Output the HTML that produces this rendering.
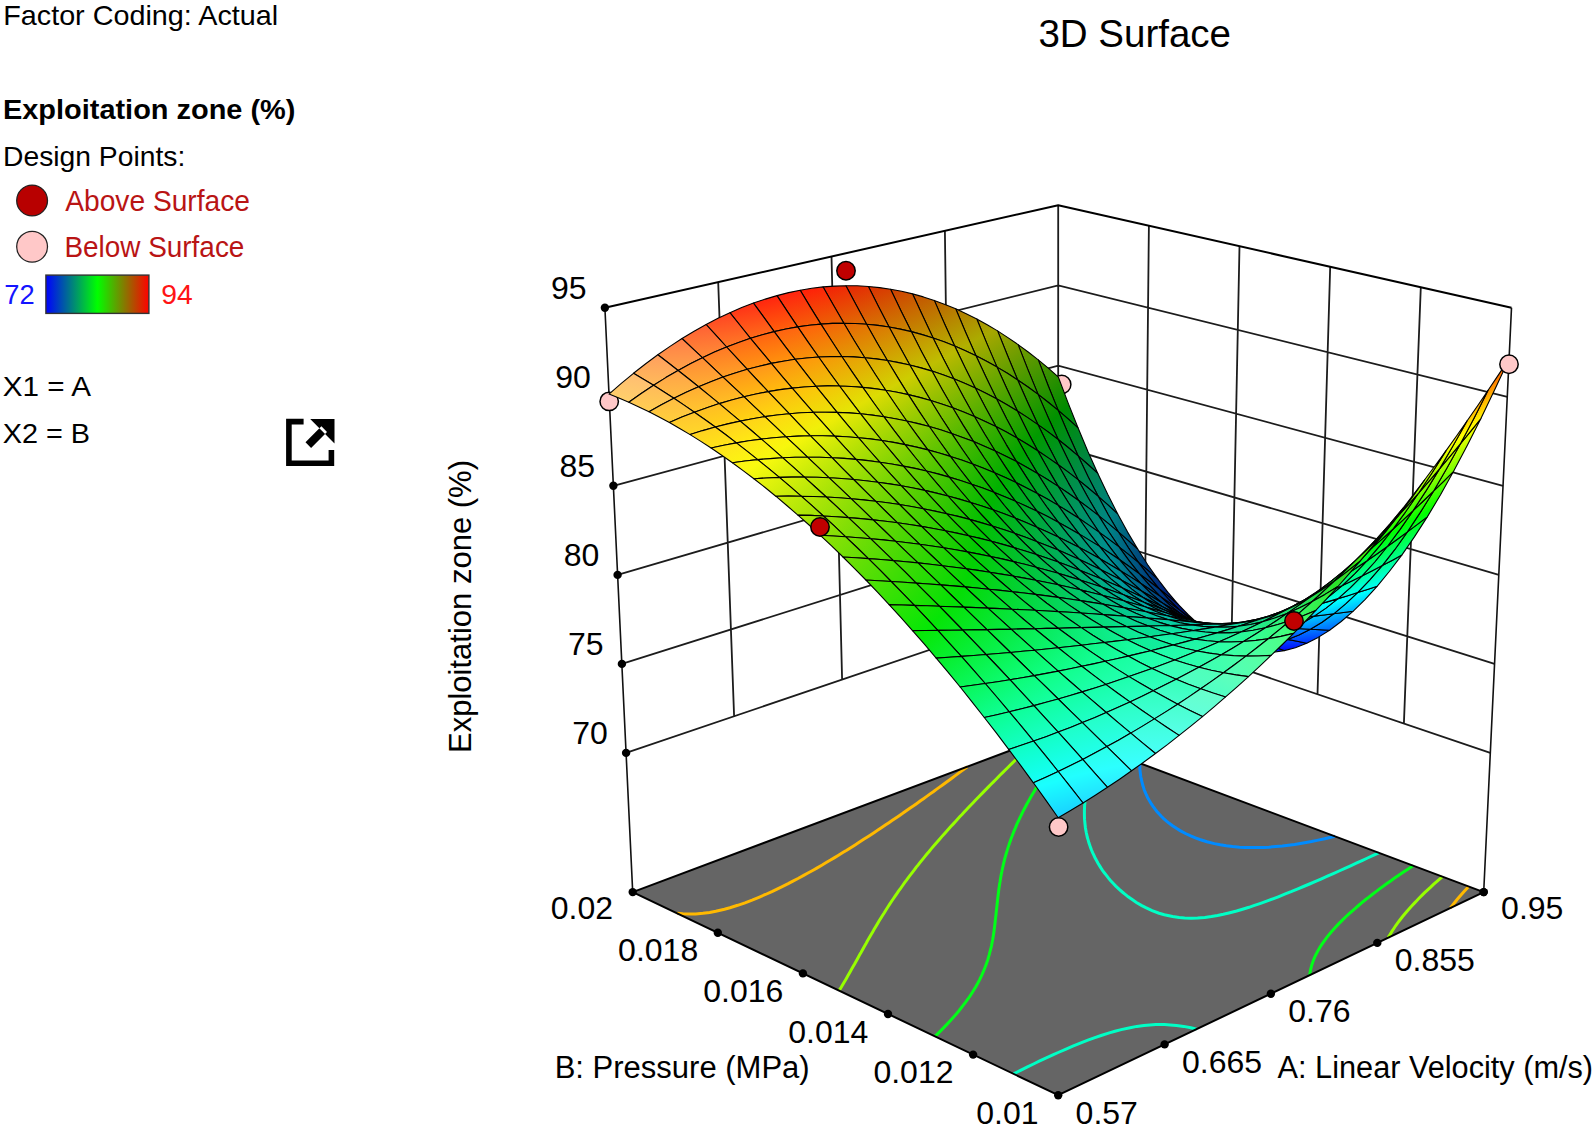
<!DOCTYPE html>
<html><head><meta charset="utf-8"><title>3D Surface</title>
<style>
html,body{margin:0;padding:0;background:#fff;}
body{width:1594px;height:1128px;position:relative;overflow:hidden;font-family:"Liberation Sans",sans-serif;}
.m path{stroke:#000;stroke-width:1.1;stroke-linejoin:round}
</style></head><body>
<svg width="1594" height="1128" viewBox="0 0 1594 1128" style="position:absolute;left:0;top:0">
<path d="M626.1,752.9L1058.2,606.2L1490.3,752.9M621.9,663.9L1058.2,526L1494.5,663.9M617.6,574.9L1058.2,445.8L1498.8,574.9M613.4,485.8L1058.2,365.6L1503,485.8M609.1,396.8L1058.2,285.4L1507.3,396.8M734.1,716.2L718.2,282.2M842.1,679.6L831.5,256.5M950.2,642.9L944.9,230.9M1144.6,635.6L1148.9,225.8M1231,664.9L1239.5,246.3M1317.5,694.2L1330.2,266.8M1403.9,723.6L1420.8,287.3M1058.2,606.2L1058.2,205.2" fill="none" stroke="#1c1c1c" stroke-width="1.8"/>
<path d="M604.9,307.8 1058.2,205.2 1511.5,307.8" fill="none" stroke="#000" stroke-width="2" stroke-linejoin="round"/>
<path d="M604.9,307.8 632.7,892.1M1511.5,307.8 1483.7,892.1" fill="none" stroke="#111" stroke-width="1.6"/>
<polygon points="632.7,892.1 1058.2,1095.2 1483.7,892.1 1058.2,732.6" fill="#656565"/>
<path d="M1334.9,836.3 1329.9,837.5 1324.8,838.7 1316.9,840.4 1311.6,841.5 1306.1,842.5 1300.4,843.5 1294.6,844.4 1288.5,845.2 1282.3,846 1275.7,846.6 1268.8,847.2 1263.7,847.4 1257.6,847.6 1250.8,847.6 1244.9,847.5 1239.5,847.2 1232.6,846.6 1226.2,845.8 1220.3,844.8 1214.4,843.6 1206.9,841.8 1199.8,839.5 1195.4,837.9 1191.2,836.2 1185.5,833.5 1180.1,830.6 1176.8,828.6 1172.5,825.7 1169.2,823.3 1166.5,821.1 1163.9,818.8 1161.5,816.5 1159.2,814.1 1157.1,811.7 1155.1,809.2 1153.2,806.7 1151.5,804.2 1149.9,801.6 1148.7,799.4 1147.6,797.5 1146.4,795 1145.2,792.2 1144.4,790.2 1143.7,788.1 1142.8,785.3 1142.3,783.3 1141.7,781 1141.1,778.4 1140.8,776.7 1140.4,773.7 1140.2,772.1 1139.9,769.3 1139.8,767.6 1139.7,764.8 1139.7,763.1 1139.7,763.1" fill="none" stroke="#008bff" stroke-width="3" stroke-linecap="butt"/>
<path d="M1013.5,1073.9 1020.5,1070.4 1027.5,1066.9 1034.5,1063.5 1039.2,1061.2 1046.3,1057.9 1053.4,1054.6 1058.2,1052.5 1065.5,1049.3 1072.8,1046.2 1080.3,1043.1 1087.9,1040.2 1094.2,1037.9 1101.1,1035.5 1109.3,1032.9 1115,1031.3 1121.2,1029.6 1130.1,1027.7 1136.8,1026.4 1143.9,1025.5 1149.9,1024.9 1155.8,1024.6 1164.5,1024.6 1170.3,1024.9 1176.5,1025.4 1183.7,1026.4 1190.9,1027.8 1196.6,1029.1M1378.8,852.8 1373.2,855.4 1367.6,858 1362,860.6 1356.3,863.2 1350.6,865.8 1344.9,868.4 1339.1,871 1333.3,873.6 1327.4,876.2 1321.5,878.8 1315.6,881.4 1309.5,884 1303.5,886.5 1297.3,889.1 1291.1,891.7 1284.7,894.2 1278.3,896.8 1273.6,898.6 1267.4,900.9 1260.6,903.3 1253.7,905.7 1249,907.3 1241.7,909.5 1236.6,911 1228.8,913 1223.3,914.3 1217.5,915.5 1211.4,916.5 1204.8,917.4 1197.6,918 1191.1,918.2 1184.6,918 1179.2,917.5 1172.6,916.5 1164.3,914.7 1159.1,913.2 1152.1,910.6 1145.8,907.7 1141.8,905.6 1136.4,902.5 1132.9,900.1 1128.2,896.8 1125.2,894.4 1122.3,892 1119,889.1 1115.8,886.1 1113.1,883.3 1110.7,880.7 1108.5,878.1 1106.4,875.4 1104.3,872.8 1102.5,870.3 1100.9,867.9 1099.5,865.6 1098,863.2 1096.4,860.3 1094.9,857.5 1093.6,854.7 1092.6,852.7 1091.6,850.3 1090.5,847.4 1089.6,844.8 1088.9,842.8 1088.1,839.9 1087.3,837.3 1086.9,835.4 1086.2,832.3 1085.8,830.1 1085.4,827.7 1085.1,824.9 1084.9,823 1084.6,819.9 1084.5,818.2 1084.4,815 1084.4,813.4 1084.4,810.3 1084.5,808.6 1084.6,805.6 1084.8,803.7 1085,801.1 1085.3,798.7 1085.6,796.6 1086,793.7 1086.3,792 1086.8,789.4 1087.4,786.9 1087.8,785.1 1088.5,782.4 1089.1,780 1089.6,778.2 1090.4,775.5 1091.2,773.1 1091.7,771.3 1092.6,768.9 1093.5,766.3 1094.3,764.3 1095,762.4 1096,759.8 1097.1,757.3 1097.9,755.4 1098.7,753.6 1099.8,751.1 1101,748.6 1101,748.6" fill="none" stroke="#00ffc5" stroke-width="3" stroke-linecap="butt"/>
<path d="M1413.1,865.7 1410.1,867.7 1405.5,870.7 1402.4,872.8 1398,875.8 1393.9,878.6 1390.6,881 1386.2,884.1 1383.2,886.2 1378.9,889.4 1376,891.6 1372.2,894.5 1368.9,897.1 1366,899.3 1361.9,902.7 1359.1,905 1355.3,908.3 1352.4,910.8 1349.8,913.1 1346.1,916.5 1343.4,919.1 1340.9,921.6 1338.4,924.1 1335,927.7 1332.6,930.4 1330.4,933 1328.2,935.6 1326.1,938.3 1324.1,941.1 1322,944.1 1320.1,947 1318.4,949.9 1316.9,952.7 1315.5,955.5 1314.1,958.6 1312.9,961.7 1311.8,964.9 1311,968.2 1310.4,970.5 1309.9,973.4 1309.7,975.2M935,1036.4 938.1,1033.4 941.1,1030.4 944,1027.4 946.9,1024.4 950,1021.1 953,1017.7 955.9,1014.4 958.6,1011.2 961.1,1008 963.5,1004.9 965.8,1001.9 967.9,999 969.9,996.1 971.8,993.2 973.8,990 975.8,986.7 977.6,983.5 979.4,980.1 980.6,977.6 981.8,975.1 983.3,971.7 984.7,968.3 985.7,965.7 986.6,963.2 987.8,959.7 988.6,956.8 989.3,954.4 990.2,950.9 990.9,948.2 991.5,945.6 992.2,942 992.6,940 993.2,936.6 993.6,934 994,931.2 994.4,928.1 994.7,925.8 995.1,922.3 995.3,920.4 995.7,916.8 996,914.6 996.3,911.4 996.6,909 996.9,906.1 997.2,903.4 997.5,900.8 997.8,897.8 998.1,895.5 998.5,892.2 998.7,890.3 999.2,886.9 999.5,884.8 1000,881.9 1000.4,879.2 1000.8,876.9 1001.4,873.6 1001.8,871.8 1002.4,868.7 1003,866.2 1003.5,863.9 1004.3,860.7 1004.8,858.6 1005.5,856.1 1006.4,853 1007,851.1 1007.8,848.4 1008.8,845.4 1009.4,843.5 1010.3,840.9 1011.3,838 1012.2,835.8 1013,833.7 1014.1,830.8 1015.3,828.1 1016.1,826.1 1017.1,823.7 1018.4,821 1019.6,818.3 1020.6,816.4 1021.7,814.1 1023,811.4 1024.4,808.8 1025.6,806.5 1026.6,804.5 1027.9,802.2 1029.4,799.6 1030.8,797 1032.3,794.5 1033.5,792.5 1034.7,790.5 1036.1,788.1 1037.7,785.6 1039.2,783.1 1040.8,780.7 1042.4,778.3 1043.7,776.3 1045.1,774.2 1046.4,772.2 1048.1,769.8 1049.7,767.4 1051.4,765.1 1053.1,762.7 1054.7,760.4 1056.4,758.1 1058.1,755.8 1059.6,753.8 1061.1,751.7 1062.7,749.7 1064.2,747.6 1065.8,745.5 1067.6,743.3 1069.3,741.1 1071.1,738.8 1071.9,737.7" fill="none" stroke="#00ff17" stroke-width="3" stroke-linecap="butt"/>
<path d="M1442.4,876.7 1439.9,878.9 1436.1,882.2 1433.5,884.4 1430.7,887.1 1427.4,890.1 1424.9,892.4 1422.4,894.9 1419,898.3 1416.7,900.7 1414.4,903.1 1411.7,906 1408.8,909.2 1406.6,911.7 1404.5,914.3 1402.4,916.8 1400.3,919.5 1397.9,922.7 1395.6,925.8 1393.7,928.7 1391.9,931.4 1390.2,934.2 1388.5,937 1388.1,937.7M839.1,990.6 841.2,987.3 842.8,984.5 844.3,982 846.1,978.9 848,975.6 849.9,972.2 851.4,969.6 852.8,967.1 854.6,964 856.4,960.7 858.2,957.5 859.5,955.1 861,952.5 862.8,949.2 864.6,946 866.2,943.2 867.5,940.8 869.1,938 871,934.8 872.8,931.7 874.3,929.1 875.7,926.7 877.4,923.9 879.2,920.8 881.1,917.7 882.8,915 884.3,912.7 885.8,910.2 887.7,907.2 889.7,904.2 891.6,901.3 893.5,898.5 895.1,896.1 896.7,893.8 898.5,891.1 900.6,888.3 902.6,885.5 904.6,882.7 906.7,879.9 908.7,877.1 910.6,874.7 912.4,872.3 914.3,869.9 916.1,867.4 918.2,864.9 920.3,862.2 922.4,859.6 924.6,856.9 926.7,854.3 928.9,851.7 931,849.1 933.2,846.6 935.4,844 937.6,841.5 939.8,839 942,836.4 944.2,833.9 946.4,831.5 948.6,829 950.8,826.5 953.1,824.1 955.3,821.7 957.5,819.3 959.7,816.8 962,814.5 964.2,812.1 966.4,809.7 968.7,807.3 970.9,805 973.1,802.7 975.4,800.3 977.6,798 979.8,795.7 982.1,793.4 984.3,791.1 986.5,788.9 988.7,786.6 991,784.3 993.2,782.1 995.6,779.7 998,777.2 1000.4,774.8 1002.9,772.4 1005.3,770 1007.6,767.7 1009.8,765.5 1012,763.4 1014.2,761.2 1016.4,759 1018.6,756.9 1020.8,754.8 1023,752.6 1025.2,750.5 1027.3,748.4 1029.7,746.2 1032.1,743.8 1034.5,741.5 1034.5,741.5" fill="none" stroke="#97ff00" stroke-width="3" stroke-linecap="butt"/>
<path d="M1468.6,886.5 1466.4,888.9 1464.3,891.2 1461.2,894.7 1459,897.3 1456.9,899.7 1454.9,902.2 1452.8,904.8 1450.4,908 1450.4,908M677.1,913.3 682.8,913.8 691,914 695.7,913.9 702.9,913.3 709.6,912.4 715.8,911.2 724.5,909.2 729.9,907.7 737.7,905.3 745,902.8 752.1,900.1 758.9,897.3 765.5,894.5 771.9,891.6 778.1,888.6 782.2,886.6 788.2,883.6 792.9,881.1 798,878.5 803.7,875.4 807.5,873.3 813.1,870.2 816.8,868.1 822.2,865 825.8,862.8 830.1,860.3 834.6,857.6 838.1,855.5 843.2,852.3 846.7,850.2 851.1,847.4 855.1,844.9 858.4,842.8 863.3,839.6 866.6,837.5 869.8,835.4 874.7,832.2 877.9,830.1 881,828 885.7,824.8 888.9,822.7 892,820.6 896.6,817.5 899.6,815.4 902.7,813.3 906.6,810.5 910.2,808 913.2,806 916.2,803.9 920.5,800.8 923.5,798.7 926.4,796.6 929.8,794.1 933.6,791.5 936.4,789.4 939.2,787.4 942.9,784.7 946.3,782.2 949.1,780.2 951.8,778.2 955.3,775.6 958.7,773.1 961.4,771.1 964.2,769 967.3,766.7 967.3,766.7" fill="none" stroke="#ffb900" stroke-width="3" stroke-linecap="butt"/>
<polygon points="632.7,892.1 1058.2,1095.2 1483.7,892.1 1058.2,732.6" fill="none" stroke="#000" stroke-width="2" stroke-linejoin="round"/>
<g fill="#000"><circle cx="626.1" cy="752.9" r="4.2"/><circle cx="621.9" cy="663.9" r="4.2"/><circle cx="617.6" cy="574.9" r="4.2"/><circle cx="613.4" cy="485.8" r="4.2"/><circle cx="609.1" cy="396.8" r="4.2"/><circle cx="604.9" cy="307.8" r="4.2"/><circle cx="632.7" cy="892.1" r="4.2"/><circle cx="717.8" cy="932.7" r="4.2"/><circle cx="802.9" cy="973.4" r="4.2"/><circle cx="888" cy="1014" r="4.2"/><circle cx="973.1" cy="1054.6" r="4.2"/><circle cx="1058.2" cy="1095.2" r="4.2"/><circle cx="1164.6" cy="1044.4" r="4.2"/><circle cx="1270.9" cy="993.7" r="4.2"/><circle cx="1377.3" cy="942.9" r="4.2"/><circle cx="1483.7" cy="892.1" r="4.2"/><circle cx="1483.7" cy="892.1" r="4.2"/></g>
<circle cx="609.2" cy="401.4" r="9.2" fill="#ffc8c8" stroke="#000" stroke-width="1.5"/>
<circle cx="1058.6" cy="827" r="9.2" fill="#ffc8c8" stroke="#000" stroke-width="1.5"/>
<circle cx="1061.7" cy="384.5" r="9.2" fill="#ffc8c8" stroke="#000" stroke-width="1.5"/>
<defs><linearGradient id="t" gradientUnits="userSpaceOnUse"/><linearGradient id="g0" href="#t" x1="1083.2" y1="423.6" x2="1033.3" y2="364.3"><stop offset="0" stop-color="#00881f"/><stop offset="0.3" stop-color="#008b00"/><stop offset="1" stop-color="#4f9300"/></linearGradient><linearGradient id="g1" href="#t" x1="1104.9" y1="465.4" x2="1051.2" y2="418.6"><stop offset="0" stop-color="#008359"/><stop offset="0.96" stop-color="#008e00"/><stop offset="1" stop-color="#058f00"/></linearGradient><linearGradient id="g2" href="#t" x1="1125.2" y1="500.6" x2="1070.5" y2="469.3"><stop offset="0" stop-color="#00767f"/><stop offset="0.11" stop-color="#008080"/><stop offset="1" stop-color="#008a39"/></linearGradient><linearGradient id="g3" href="#t" x1="1142.8" y1="529.7" x2="1092.7" y2="516"><stop offset="0" stop-color="#004a7c"/><stop offset="0.67" stop-color="#008383"/><stop offset="1" stop-color="#00866b"/></linearGradient><linearGradient id="g4" href="#t" x1="1156.7" y1="555.1" x2="1119.1" y2="556.5"><stop offset="0" stop-color="#002878"/><stop offset="1" stop-color="#007183"/></linearGradient><linearGradient id="g5" href="#t" x1="1061.4" y1="408.2" x2="1015.2" y2="347"><stop offset="0" stop-color="#058f00"/><stop offset="1" stop-color="#769b00"/></linearGradient><linearGradient id="g6" href="#t" x1="1083.6" y1="450.5" x2="1032.8" y2="399.9"><stop offset="0" stop-color="#008a39"/><stop offset="0.6" stop-color="#009100"/><stop offset="1" stop-color="#299600"/></linearGradient><linearGradient id="g7" href="#t" x1="1105" y1="486.5" x2="1051.4" y2="449.5"><stop offset="0" stop-color="#00866b"/><stop offset="1" stop-color="#009118"/></linearGradient><linearGradient id="g8" href="#t" x1="1168.8" y1="580" x2="1147.6" y2="587.8"><stop offset="0" stop-color="#000f76"/><stop offset="1" stop-color="#004c7f"/></linearGradient><linearGradient id="g9" href="#t" x1="1124.3" y1="516.1" x2="1072.1" y2="495.8"><stop offset="0" stop-color="#007183"/><stop offset="0.22" stop-color="#008585"/><stop offset="1" stop-color="#008d4d"/></linearGradient><linearGradient id="g10" href="#t" x1="1183" y1="604" x2="1174.6" y2="610.3"><stop offset="0" stop-color="#000073"/><stop offset="1" stop-color="#00307d"/></linearGradient><linearGradient id="g11" href="#t" x1="1039.2" y1="393.9" x2="996.8" y2="331.7"><stop offset="0" stop-color="#299600"/><stop offset="1" stop-color="#9ea200"/></linearGradient><linearGradient id="g12" href="#t" x1="1140.1" y1="541.1" x2="1096.7" y2="537.6"><stop offset="0" stop-color="#004c7f"/><stop offset="0.77" stop-color="#008787"/><stop offset="1" stop-color="#008979"/></linearGradient><linearGradient id="g13" href="#t" x1="1061.8" y1="436.5" x2="1014.4" y2="383.1"><stop offset="0" stop-color="#009118"/><stop offset="0.25" stop-color="#009400"/><stop offset="1" stop-color="#4e9d00"/></linearGradient><linearGradient id="g14" href="#t" x1="1083.9" y1="473.1" x2="1032.4" y2="431.5"><stop offset="0" stop-color="#008d4d"/><stop offset="0.89" stop-color="#009700"/><stop offset="1" stop-color="#0a9800"/></linearGradient><linearGradient id="g15" href="#t" x1="1152.9" y1="564.8" x2="1124.6" y2="571.6"><stop offset="0" stop-color="#00307d"/><stop offset="1" stop-color="#007287"/></linearGradient><linearGradient id="g16" href="#t" x1="1201.7" y1="623" x2="1197.4" y2="627.6"><stop offset="0" stop-color="#0000ff"/><stop offset="1" stop-color="#001c7b"/></linearGradient><linearGradient id="g17" href="#t" x1="1104.7" y1="503.6" x2="1052" y2="477"><stop offset="0" stop-color="#008979"/><stop offset="1" stop-color="#00942e"/></linearGradient><linearGradient id="g18" href="#t" x1="1166.3" y1="588.4" x2="1152.6" y2="596.6"><stop offset="0" stop-color="#001c7b"/><stop offset="1" stop-color="#005384"/></linearGradient><linearGradient id="g19" href="#t" x1="1016.7" y1="380.8" x2="978.2" y2="318.4"><stop offset="0" stop-color="#4e9d00"/><stop offset="0.76" stop-color="#a7a700"/><stop offset="1" stop-color="#aa8f00"/></linearGradient><linearGradient id="g20" href="#t" x1="1122.4" y1="528.5" x2="1074.8" y2="519.2"><stop offset="0" stop-color="#007287"/><stop offset="0.3" stop-color="#008989"/><stop offset="1" stop-color="#00905c"/></linearGradient><linearGradient id="g21" href="#t" x1="1220" y1="639.9" x2="1221.5" y2="636.3"><stop offset="0" stop-color="#0000ff"/><stop offset="1" stop-color="#00107a"/></linearGradient><linearGradient id="g22" href="#t" x1="1039.5" y1="423.5" x2="995.7" y2="368.3"><stop offset="0" stop-color="#0a9800"/><stop offset="1" stop-color="#73a500"/></linearGradient><linearGradient id="g23" href="#t" x1="1062.2" y1="460.6" x2="1013.5" y2="415.2"><stop offset="0" stop-color="#00942e"/><stop offset="0.53" stop-color="#009a00"/><stop offset="1" stop-color="#2da000"/></linearGradient><linearGradient id="g24" href="#t" x1="1136.6" y1="551.3" x2="1101.5" y2="555.4"><stop offset="0" stop-color="#005384"/><stop offset="0.81" stop-color="#008c8c"/><stop offset="1" stop-color="#008e82"/></linearGradient><linearGradient id="g25" href="#t" x1="1182.7" y1="609.6" x2="1178" y2="614.4"><stop offset="0" stop-color="#00107a"/><stop offset="1" stop-color="#003c83"/></linearGradient><linearGradient id="g26" href="#t" x1="1084" y1="491.8" x2="1032.3" y2="459.5"><stop offset="0" stop-color="#00905c"/><stop offset="1" stop-color="#009b0e"/></linearGradient><linearGradient id="g27" href="#t" x1="1241.3" y1="648.7" x2="1242.8" y2="643.1"><stop offset="0" stop-color="#0000ff"/><stop offset="1" stop-color="#001bff"/></linearGradient><linearGradient id="g28" href="#t" x1="994" y1="369" x2="959.2" y2="307.1"><stop offset="0" stop-color="#73a500"/><stop offset="0.48" stop-color="#abab00"/><stop offset="1" stop-color="#b37800"/></linearGradient><linearGradient id="g29" href="#t" x1="1149.8" y1="574" x2="1129.8" y2="583.1"><stop offset="0" stop-color="#003c83"/><stop offset="1" stop-color="#00788b"/></linearGradient><linearGradient id="g30" href="#t" x1="1103.6" y1="517.2" x2="1053.4" y2="501.5"><stop offset="0" stop-color="#008e82"/><stop offset="1" stop-color="#00983f"/></linearGradient><linearGradient id="g31" href="#t" x1="1200.4" y1="629" x2="1202.7" y2="623.9"><stop offset="0" stop-color="#0016ff"/><stop offset="1" stop-color="#002d82"/></linearGradient><linearGradient id="g32" href="#t" x1="1016.9" y1="411.5" x2="976.8" y2="355.4"><stop offset="0" stop-color="#2da000"/><stop offset="1" stop-color="#98ad00"/></linearGradient><linearGradient id="g33" href="#t" x1="1039.9" y1="448.8" x2="994.5" y2="400.8"><stop offset="0" stop-color="#009b0e"/><stop offset="0.16" stop-color="#009d00"/><stop offset="1" stop-color="#50a800"/></linearGradient><linearGradient id="g34" href="#t" x1="1119.6" y1="539.4" x2="1078.5" y2="539.1"><stop offset="0" stop-color="#00788b"/><stop offset="0.31" stop-color="#008e8e"/><stop offset="1" stop-color="#009567"/></linearGradient><linearGradient id="g35" href="#t" x1="1164.9" y1="595.8" x2="1156.6" y2="602.9"><stop offset="0" stop-color="#002d82"/><stop offset="1" stop-color="#005e8a"/></linearGradient><linearGradient id="g36" href="#t" x1="1263.3" y1="652.4" x2="1264.2" y2="643.6"><stop offset="0" stop-color="#0000ff"/><stop offset="1" stop-color="#002eff"/></linearGradient><linearGradient id="g37" href="#t" x1="1062.5" y1="480.7" x2="1012.8" y2="443.8"><stop offset="0" stop-color="#00983f"/><stop offset="0.79" stop-color="#00a000"/><stop offset="1" stop-color="#12a300"/></linearGradient><linearGradient id="g38" href="#t" x1="1222.3" y1="637.9" x2="1223.5" y2="634.2"><stop offset="0" stop-color="#0016ff"/><stop offset="1" stop-color="#004aff"/></linearGradient><linearGradient id="g39" href="#t" x1="971" y1="358.6" x2="939.8" y2="297.8"><stop offset="0" stop-color="#98ad00"/><stop offset="0.2" stop-color="#b0b000"/><stop offset="1" stop-color="#bc6300"/></linearGradient><linearGradient id="g40" href="#t" x1="1133.2" y1="561.1" x2="1106.4" y2="569.5"><stop offset="0" stop-color="#005e8a"/><stop offset="0.8" stop-color="#009191"/><stop offset="1" stop-color="#009287"/></linearGradient><linearGradient id="g41" href="#t" x1="1083.6" y1="506.9" x2="1032.6" y2="484.9"><stop offset="0" stop-color="#009567"/><stop offset="1" stop-color="#009f21"/></linearGradient><linearGradient id="g42" href="#t" x1="994" y1="400.6" x2="957.6" y2="344.4"><stop offset="0" stop-color="#50a800"/><stop offset="0.93" stop-color="#b4b400"/><stop offset="1" stop-color="#b5ae00"/></linearGradient><linearGradient id="g43" href="#t" x1="1183.3" y1="613.6" x2="1180.6" y2="617.2"><stop offset="0" stop-color="#004aff"/><stop offset="1" stop-color="#004d8a"/></linearGradient><linearGradient id="g44" href="#t" x1="1017.2" y1="438" x2="975.4" y2="388.2"><stop offset="0" stop-color="#12a300"/><stop offset="1" stop-color="#73b000"/></linearGradient><linearGradient id="g45" href="#t" x1="1101.6" y1="529" x2="1055.8" y2="523.2"><stop offset="0" stop-color="#009287"/><stop offset="1" stop-color="#009c4b"/></linearGradient><linearGradient id="g46" href="#t" x1="1147.5" y1="582.6" x2="1134.1" y2="591.7"><stop offset="0" stop-color="#004d8a"/><stop offset="1" stop-color="#008291"/></linearGradient><linearGradient id="g47" href="#t" x1="1286" y1="650.5" x2="1285.9" y2="639"><stop offset="0" stop-color="#0005ff"/><stop offset="1" stop-color="#0050ff"/></linearGradient><linearGradient id="g48" href="#t" x1="1244.1" y1="643.6" x2="1245.1" y2="637.2"><stop offset="0" stop-color="#001bff"/><stop offset="1" stop-color="#0055ff"/></linearGradient><linearGradient id="g49" href="#t" x1="1040.3" y1="470.4" x2="993.3" y2="429.7"><stop offset="0" stop-color="#009f21"/><stop offset="0.4" stop-color="#00a400"/><stop offset="1" stop-color="#33ab00"/></linearGradient><linearGradient id="g50" href="#t" x1="947.7" y1="349.5" x2="920" y2="290.6"><stop offset="0" stop-color="#b5ae00"/><stop offset="1" stop-color="#c55001"/></linearGradient><linearGradient id="g51" href="#t" x1="1202.9" y1="627.8" x2="1203.9" y2="625.1"><stop offset="0" stop-color="#0049ff"/><stop offset="1" stop-color="#00438a"/></linearGradient><linearGradient id="g52" href="#t" x1="1116.3" y1="549.6" x2="1082.7" y2="555.7"><stop offset="0" stop-color="#008291"/><stop offset="0.26" stop-color="#009393"/><stop offset="1" stop-color="#00996d"/></linearGradient><linearGradient id="g53" href="#t" x1="970.8" y1="390.9" x2="938.1" y2="335.3"><stop offset="0" stop-color="#73b000"/><stop offset="0.65" stop-color="#b9b900"/><stop offset="1" stop-color="#bf9b01"/></linearGradient><linearGradient id="g54" href="#t" x1="1062.6" y1="497.4" x2="1012.1" y2="469.7"><stop offset="0" stop-color="#009c4b"/><stop offset="1" stop-color="#00a602"/></linearGradient><linearGradient id="g55" href="#t" x1="1164.5" y1="601.8" x2="1159.7" y2="607.3"><stop offset="0" stop-color="#00438a"/><stop offset="1" stop-color="#006f91"/></linearGradient><linearGradient id="g56" href="#t" x1="994.1" y1="428.1" x2="955.9" y2="377.5"><stop offset="0" stop-color="#33ab00"/><stop offset="1" stop-color="#96b800"/></linearGradient><linearGradient id="g57" href="#t" x1="1266.6" y1="644" x2="1266.8" y2="635.1"><stop offset="0" stop-color="#002eff"/><stop offset="1" stop-color="#0070ff"/></linearGradient><linearGradient id="g58" href="#t" x1="1082.4" y1="519.7" x2="1033.7" y2="507.8"><stop offset="0" stop-color="#00996d"/><stop offset="1" stop-color="#00a32e"/></linearGradient><linearGradient id="g59" href="#t" x1="1130.2" y1="570.3" x2="1110.9" y2="580.5"><stop offset="0" stop-color="#006f91"/><stop offset="0.7" stop-color="#009696"/><stop offset="1" stop-color="#009889"/></linearGradient><linearGradient id="g60" href="#t" x1="1309.4" y1="642.8" x2="1307.8" y2="629.3"><stop offset="0" stop-color="#002fff"/><stop offset="1" stop-color="#0080ff"/></linearGradient><linearGradient id="g61" href="#t" x1="1224.7" y1="635" x2="1225.6" y2="630.7"><stop offset="0" stop-color="#0049ff"/><stop offset="1" stop-color="#007cff"/></linearGradient><linearGradient id="g62" href="#t" x1="1017.5" y1="460.8" x2="973.7" y2="417.5"><stop offset="0" stop-color="#00a602"/><stop offset="0.02" stop-color="#00a600"/><stop offset="1" stop-color="#55b300"/></linearGradient><linearGradient id="g63" href="#t" x1="924.3" y1="342" x2="899.9" y2="285.4"><stop offset="0" stop-color="#bf9b01"/><stop offset="1" stop-color="#d03f01"/></linearGradient><linearGradient id="g64" href="#t" x1="1185.1" y1="614.9" x2="1181.9" y2="620"><stop offset="0" stop-color="#0075ff"/><stop offset="1" stop-color="#006292"/></linearGradient><linearGradient id="g65" href="#t" x1="947.3" y1="382.5" x2="918.2" y2="328.2"><stop offset="0" stop-color="#96b800"/><stop offset="0.38" stop-color="#bebe01"/><stop offset="1" stop-color="#c88a01"/></linearGradient><linearGradient id="g66" href="#t" x1="1098.8" y1="539.7" x2="1059" y2="541.8"><stop offset="0" stop-color="#009889"/><stop offset="1" stop-color="#00a052"/></linearGradient><linearGradient id="g67" href="#t" x1="1040.7" y1="488.5" x2="991.9" y2="456"><stop offset="0" stop-color="#00a32e"/><stop offset="0.62" stop-color="#00a900"/><stop offset="1" stop-color="#1eae00"/></linearGradient><linearGradient id="g68" href="#t" x1="1146.1" y1="590" x2="1137.7" y2="598.1"><stop offset="0" stop-color="#006292"/><stop offset="1" stop-color="#009198"/></linearGradient><linearGradient id="g69" href="#t" x1="970.7" y1="419.3" x2="936.1" y2="368.5"><stop offset="0" stop-color="#55b300"/><stop offset="1" stop-color="#b8c101"/></linearGradient><linearGradient id="g70" href="#t" x1="1247" y1="637.6" x2="1247.5" y2="631.1"><stop offset="0" stop-color="#0055ff"/><stop offset="1" stop-color="#0090ff"/></linearGradient><linearGradient id="g71" href="#t" x1="1289.8" y1="639" x2="1288.8" y2="628.2"><stop offset="0" stop-color="#0050ff"/><stop offset="1" stop-color="#0098ff"/></linearGradient><linearGradient id="g72" href="#t" x1="1062" y1="511.5" x2="1012.1" y2="493.3"><stop offset="0" stop-color="#00a052"/><stop offset="1" stop-color="#00aa11"/></linearGradient><linearGradient id="g73" href="#t" x1="1113.1" y1="559.3" x2="1086.9" y2="569.1"><stop offset="0" stop-color="#009198"/><stop offset="0.13" stop-color="#009999"/><stop offset="1" stop-color="#009f70"/></linearGradient><linearGradient id="g74" href="#t" x1="1205" y1="626.8" x2="1205.7" y2="624.2"><stop offset="0" stop-color="#0075ff"/><stop offset="1" stop-color="#00a2ff"/></linearGradient><linearGradient id="g75" href="#t" x1="1333.4" y1="629.2" x2="1330.1" y2="614.2"><stop offset="0" stop-color="#0068ff"/><stop offset="1" stop-color="#00bfff"/></linearGradient><linearGradient id="g76" href="#t" x1="900.7" y1="336.1" x2="879.5" y2="282.4"><stop offset="0" stop-color="#c88a01"/><stop offset="1" stop-color="#db3102"/></linearGradient><linearGradient id="g77" href="#t" x1="994.3" y1="452" x2="953.9" y2="406.9"><stop offset="0" stop-color="#1eae00"/><stop offset="1" stop-color="#76bb01"/></linearGradient><linearGradient id="g78" href="#t" x1="1164.8" y1="606.3" x2="1162.1" y2="610.5"><stop offset="0" stop-color="#015e94"/><stop offset="1" stop-color="#00839a"/></linearGradient><linearGradient id="g79" href="#t" x1="923.6" y1="375.5" x2="897.9" y2="323"><stop offset="0" stop-color="#b8c101"/><stop offset="0.1" stop-color="#c3c301"/><stop offset="1" stop-color="#d37b02"/></linearGradient><linearGradient id="g80" href="#t" x1="1080.3" y1="531.3" x2="1035.7" y2="527.9"><stop offset="0" stop-color="#009f70"/><stop offset="1" stop-color="#00a737"/></linearGradient><linearGradient id="g81" href="#t" x1="1018" y1="480.3" x2="971.8" y2="444"><stop offset="0" stop-color="#00aa11"/><stop offset="0.22" stop-color="#00ac00"/><stop offset="1" stop-color="#3db500"/></linearGradient><linearGradient id="g82" href="#t" x1="1128.1" y1="578.8" x2="1114.6" y2="589"><stop offset="0" stop-color="#00839a"/><stop offset="0.51" stop-color="#009c9c"/><stop offset="1" stop-color="#009f89"/></linearGradient><linearGradient id="g83" href="#t" x1="947" y1="411.6" x2="916" y2="361.5"><stop offset="0" stop-color="#76bb01"/><stop offset="0.82" stop-color="#c8c801"/><stop offset="1" stop-color="#cbbb01"/></linearGradient><linearGradient id="g84" href="#t" x1="1270" y1="635.3" x2="1269.6" y2="627"><stop offset="0" stop-color="#0070ff"/><stop offset="1" stop-color="#00b0ff"/></linearGradient><linearGradient id="g85" href="#t" x1="1227.2" y1="631.4" x2="1227.7" y2="627.1"><stop offset="0" stop-color="#007cff"/><stop offset="1" stop-color="#00afff"/></linearGradient><linearGradient id="g86" href="#t" x1="1313.5" y1="628.5" x2="1311.2" y2="616.3"><stop offset="0" stop-color="#0080ff"/><stop offset="1" stop-color="#00ceff"/></linearGradient><linearGradient id="g87" href="#t" x1="876.8" y1="331.7" x2="858.7" y2="281.4"><stop offset="0" stop-color="#d37b02"/><stop offset="1" stop-color="#e72604"/></linearGradient><linearGradient id="g88" href="#t" x1="1040.6" y1="504" x2="991" y2="480.1"><stop offset="0" stop-color="#00a737"/><stop offset="0.81" stop-color="#00af00"/><stop offset="1" stop-color="#0eb100"/></linearGradient><linearGradient id="g89" href="#t" x1="1190.1" y1="631.8" x2="1179.9" y2="603.2"><stop offset="0" stop-color="#015e94"/><stop offset="1" stop-color="#017c9c"/></linearGradient><linearGradient id="g90" href="#t" x1="1095.7" y1="549.8" x2="1062.5" y2="557.4"><stop offset="0" stop-color="#009f89"/><stop offset="1" stop-color="#00a557"/></linearGradient><linearGradient id="g91" href="#t" x1="970.8" y1="444.1" x2="933.9" y2="398.2"><stop offset="0" stop-color="#3db500"/><stop offset="1" stop-color="#97c401"/></linearGradient><linearGradient id="g92" href="#t" x1="1357.9" y1="609.5" x2="1353" y2="593.6"><stop offset="0" stop-color="#00b1ff"/><stop offset="0.85" stop-color="#00ffff"/><stop offset="1" stop-color="#00fff1"/></linearGradient><linearGradient id="g93" href="#t" x1="1145.6" y1="596.3" x2="1140.4" y2="602.9"><stop offset="0" stop-color="#017c9c"/><stop offset="0.88" stop-color="#01a0a0"/><stop offset="1" stop-color="#00a09c"/></linearGradient><linearGradient id="g94" href="#t" x1="899.7" y1="369.8" x2="877.3" y2="319.7"><stop offset="0" stop-color="#cbbb01"/><stop offset="1" stop-color="#de6f03"/></linearGradient><linearGradient id="g95" href="#t" x1="1060.7" y1="524" x2="1012.9" y2="514.5"><stop offset="0" stop-color="#00a557"/><stop offset="1" stop-color="#00ae1b"/></linearGradient><linearGradient id="g96" href="#t" x1="994.7" y1="472.7" x2="951.7" y2="433.6"><stop offset="0" stop-color="#0eb100"/><stop offset="1" stop-color="#5dbd01"/></linearGradient><linearGradient id="g97" href="#t" x1="1110.4" y1="568.5" x2="1090.6" y2="579.8"><stop offset="0" stop-color="#00a09c"/><stop offset="1" stop-color="#00a571"/></linearGradient><linearGradient id="g98" href="#t" x1="923.1" y1="405.1" x2="895.6" y2="356.2"><stop offset="0" stop-color="#97c401"/><stop offset="0.55" stop-color="#cdcd01"/><stop offset="1" stop-color="#d5ae02"/></linearGradient><linearGradient id="g99" href="#t" x1="1250" y1="631.5" x2="1249.9" y2="625.6"><stop offset="0" stop-color="#0090ff"/><stop offset="1" stop-color="#00c8ff"/></linearGradient><linearGradient id="g100" href="#t" x1="1207.2" y1="625.5" x2="1207.6" y2="622.8"><stop offset="0" stop-color="#00a2ff"/><stop offset="1" stop-color="#00ceff"/></linearGradient><linearGradient id="g101" href="#t" x1="1293.5" y1="627.8" x2="1292" y2="618.2"><stop offset="0" stop-color="#0098ff"/><stop offset="1" stop-color="#00ddff"/></linearGradient><linearGradient id="g102" href="#t" x1="852.8" y1="329" x2="837.5" y2="282.5"><stop offset="0" stop-color="#de6f03"/><stop offset="1" stop-color="#f32006"/></linearGradient><linearGradient id="g103" href="#t" x1="1018.2" y1="497.1" x2="970.2" y2="468.2"><stop offset="0" stop-color="#00ae1b"/><stop offset="0.39" stop-color="#00b200"/><stop offset="1" stop-color="#2cb801"/></linearGradient><linearGradient id="g104" href="#t" x1="1165.7" y1="609.6" x2="1164" y2="612.9"><stop offset="0" stop-color="#017da0"/><stop offset="1" stop-color="#019ca3"/></linearGradient><linearGradient id="g105" href="#t" x1="1077.7" y1="541.9" x2="1038.1" y2="545.3"><stop offset="0" stop-color="#00a571"/><stop offset="1" stop-color="#00ac3c"/></linearGradient><linearGradient id="g106" href="#t" x1="946.9" y1="437.1" x2="913.6" y2="391.1"><stop offset="0" stop-color="#5dbd01"/><stop offset="1" stop-color="#b7cd01"/></linearGradient><linearGradient id="g107" href="#t" x1="1337.9" y1="612.3" x2="1334" y2="599.3"><stop offset="0" stop-color="#00bfff"/><stop offset="0.77" stop-color="#00ffff"/><stop offset="1" stop-color="#00ffec"/></linearGradient><linearGradient id="g108" href="#t" x1="875.6" y1="365.7" x2="856.3" y2="318.5"><stop offset="0" stop-color="#d5ae02"/><stop offset="1" stop-color="#e96604"/></linearGradient><linearGradient id="g109" href="#t" x1="1126.8" y1="586.4" x2="1117.5" y2="595.8"><stop offset="0" stop-color="#019ca3"/><stop offset="0.19" stop-color="#01a4a4"/><stop offset="1" stop-color="#01a786"/></linearGradient><linearGradient id="g110" href="#t" x1="1383.1" y1="583.6" x2="1376" y2="566.2"><stop offset="0" stop-color="#00fff5"/><stop offset="1" stop-color="#00ff8d"/></linearGradient><linearGradient id="g111" href="#t" x1="1039.8" y1="517.7" x2="990.7" y2="501.8"><stop offset="0" stop-color="#00ac3c"/><stop offset="0.97" stop-color="#01b401"/><stop offset="1" stop-color="#02b401"/></linearGradient><linearGradient id="g112" href="#t" x1="971" y1="465.8" x2="931.3" y2="424.9"><stop offset="0" stop-color="#2cb801"/><stop offset="1" stop-color="#7cc601"/></linearGradient><linearGradient id="g113" href="#t" x1="898.9" y1="399.8" x2="874.8" y2="352.8"><stop offset="0" stop-color="#b7cd01"/><stop offset="0.28" stop-color="#d2d202"/><stop offset="1" stop-color="#dfa303"/></linearGradient><linearGradient id="g114" href="#t" x1="1092.9" y1="559.5" x2="1065.8" y2="570.3"><stop offset="0" stop-color="#01a786"/><stop offset="1" stop-color="#01ab58"/></linearGradient><linearGradient id="g115" href="#t" x1="1229.8" y1="627.8" x2="1229.9" y2="624"><stop offset="0" stop-color="#00afff"/><stop offset="1" stop-color="#00e0ff"/></linearGradient><linearGradient id="g116" href="#t" x1="828.5" y1="328.1" x2="816.1" y2="285.8"><stop offset="0" stop-color="#e96604"/><stop offset="1" stop-color="#ff1f09"/></linearGradient><linearGradient id="g117" href="#t" x1="1273.3" y1="626.9" x2="1272.4" y2="619.9"><stop offset="0" stop-color="#00b0ff"/><stop offset="1" stop-color="#00edff"/></linearGradient><linearGradient id="g118" href="#t" x1="1188.5" y1="615.3" x2="1185.7" y2="622.3"><stop offset="0" stop-color="#017da0"/><stop offset="1" stop-color="#03a0ad"/></linearGradient><linearGradient id="g119" href="#t" x1="1317.6" y1="615" x2="1314.8" y2="604.7"><stop offset="0" stop-color="#00ceff"/><stop offset="0.66" stop-color="#00ffff"/><stop offset="1" stop-color="#00ffe6"/></linearGradient><linearGradient id="g120" href="#t" x1="1145.9" y1="601.4" x2="1142.3" y2="607.2"><stop offset="0" stop-color="#029aa7"/><stop offset="0.43" stop-color="#01a9a9"/><stop offset="1" stop-color="#01aa98"/></linearGradient><linearGradient id="g121" href="#t" x1="995" y1="490.7" x2="949.5" y2="457.9"><stop offset="0" stop-color="#02b401"/><stop offset="1" stop-color="#4ac001"/></linearGradient><linearGradient id="g122" href="#t" x1="922.7" y1="431.2" x2="892.9" y2="385.8"><stop offset="0" stop-color="#7cc601"/><stop offset="1" stop-color="#d6d602"/><stop offset="1" stop-color="#d6d602"/></linearGradient><linearGradient id="g123" href="#t" x1="1058.7" y1="535.4" x2="1014.1" y2="533.1"><stop offset="0" stop-color="#01ab58"/><stop offset="1" stop-color="#01b222"/></linearGradient><linearGradient id="g124" href="#t" x1="851.2" y1="363" x2="835" y2="319.2"><stop offset="0" stop-color="#dfa303"/><stop offset="1" stop-color="#f56107"/></linearGradient><linearGradient id="g125" href="#t" x1="1108.7" y1="577.1" x2="1093.4" y2="588.8"><stop offset="0" stop-color="#01aa98"/><stop offset="1" stop-color="#01ad70"/></linearGradient><linearGradient id="g126" href="#t" x1="1362.7" y1="590.3" x2="1357.1" y2="576.2"><stop offset="0" stop-color="#00fff1"/><stop offset="1" stop-color="#00ff94"/></linearGradient><linearGradient id="g127" href="#t" x1="946.9" y1="459.7" x2="910.7" y2="417.8"><stop offset="0" stop-color="#4ac001"/><stop offset="1" stop-color="#9bce02"/></linearGradient><linearGradient id="g128" href="#t" x1="1017.8" y1="511.9" x2="968.9" y2="490.3"><stop offset="0" stop-color="#01b222"/><stop offset="0.53" stop-color="#01b701"/><stop offset="1" stop-color="#1fbb01"/></linearGradient><linearGradient id="g129" href="#t" x1="874.5" y1="395.8" x2="853.6" y2="351.3"><stop offset="0" stop-color="#d6d602"/><stop offset="1" stop-color="#eb9b05"/></linearGradient><linearGradient id="g130" href="#t" x1="804.1" y1="328.9" x2="794.3" y2="291.4"><stop offset="0" stop-color="#f56107"/><stop offset="1" stop-color="#ff240f"/></linearGradient><linearGradient id="g131" href="#t" x1="1209.3" y1="624.8" x2="1209.6" y2="621.5"><stop offset="0" stop-color="#00ceff"/><stop offset="1" stop-color="#00f7ff"/></linearGradient><linearGradient id="g132" href="#t" x1="1252.9" y1="626" x2="1252.5" y2="621.2"><stop offset="0" stop-color="#00c8ff"/><stop offset="1" stop-color="#00fdff"/></linearGradient><linearGradient id="g133" href="#t" x1="1075.2" y1="552.1" x2="1040.5" y2="560.1"><stop offset="0" stop-color="#01ad70"/><stop offset="1" stop-color="#01b13f"/></linearGradient><linearGradient id="g134" href="#t" x1="1167" y1="612.3" x2="1165.7" y2="615.6"><stop offset="0" stop-color="#029aa7"/><stop offset="0.59" stop-color="#02acac"/><stop offset="1" stop-color="#02afa5"/></linearGradient><linearGradient id="g135" href="#t" x1="1297.2" y1="617.4" x2="1295.3" y2="609.8"><stop offset="0" stop-color="#00ddff"/><stop offset="0.52" stop-color="#00ffff"/><stop offset="1" stop-color="#00ffe0"/></linearGradient><linearGradient id="g136" href="#t" x1="1409.6" y1="552.5" x2="1399.1" y2="531.6"><stop offset="0" stop-color="#00ff94"/><stop offset="1" stop-color="#00ff15"/></linearGradient><linearGradient id="g137" href="#t" x1="826.7" y1="361.9" x2="813.4" y2="322"><stop offset="0" stop-color="#eb9b05"/><stop offset="1" stop-color="#ff600b"/></linearGradient><linearGradient id="g138" href="#t" x1="898.2" y1="426.4" x2="871.9" y2="382.3"><stop offset="0" stop-color="#9bce02"/><stop offset="0.73" stop-color="#dcdc03"/><stop offset="1" stop-color="#e1cc04"/></linearGradient><linearGradient id="g139" href="#t" x1="1126.6" y1="593.1" x2="1119.4" y2="602.1"><stop offset="0" stop-color="#02afa5"/><stop offset="1" stop-color="#01b083"/></linearGradient><linearGradient id="g140" href="#t" x1="971.2" y1="484.9" x2="928.7" y2="449.2"><stop offset="0" stop-color="#1fbb01"/><stop offset="1" stop-color="#67c801"/></linearGradient><linearGradient id="g141" href="#t" x1="1038.5" y1="530" x2="990.8" y2="521.3"><stop offset="0" stop-color="#01b13f"/><stop offset="1" stop-color="#01b807"/></linearGradient><linearGradient id="g142" href="#t" x1="1342.2" y1="596.8" x2="1338" y2="585.7"><stop offset="0" stop-color="#00ffec"/><stop offset="1" stop-color="#00ff9a"/></linearGradient><linearGradient id="g143" href="#t" x1="1091" y1="568.8" x2="1068.1" y2="581.3"><stop offset="0" stop-color="#01b083"/><stop offset="1" stop-color="#01b258"/></linearGradient><linearGradient id="g144" href="#t" x1="779.5" y1="331.4" x2="771.5" y2="296.5"><stop offset="0" stop-color="#ff600b"/><stop offset="1" stop-color="#ff240f"/></linearGradient><linearGradient id="g145" href="#t" x1="849.8" y1="393.2" x2="832.2" y2="351.7"><stop offset="0" stop-color="#e1cc04"/><stop offset="1" stop-color="#f69608"/></linearGradient><linearGradient id="g146" href="#t" x1="922.5" y1="454.4" x2="889.8" y2="412.4"><stop offset="0" stop-color="#67c801"/><stop offset="1" stop-color="#b8d703"/></linearGradient><linearGradient id="g147" href="#t" x1="994.8" y1="506.7" x2="947.5" y2="480.2"><stop offset="0" stop-color="#01b807"/><stop offset="0.09" stop-color="#01b901"/><stop offset="1" stop-color="#3cc201"/></linearGradient><linearGradient id="g148" href="#t" x1="1232.3" y1="625.2" x2="1232.3" y2="621.9"><stop offset="0" stop-color="#00e0ff"/><stop offset="0.7" stop-color="#00ffff"/><stop offset="1" stop-color="#00fff1"/></linearGradient><linearGradient id="g149" href="#t" x1="1189.2" y1="618.5" x2="1188.5" y2="621.8"><stop offset="0" stop-color="#03a0ad"/><stop offset="0.56" stop-color="#04b5b5"/><stop offset="1" stop-color="#05bcb1"/></linearGradient><linearGradient id="g150" href="#t" x1="1388.8" y1="563.2" x2="1380.3" y2="546.2"><stop offset="0" stop-color="#00ff9a"/><stop offset="1" stop-color="#00ff29"/></linearGradient><linearGradient id="g151" href="#t" x1="1276.5" y1="619.7" x2="1275.5" y2="614.3"><stop offset="0" stop-color="#00edff"/><stop offset="0.32" stop-color="#00ffff"/><stop offset="1" stop-color="#00ffd9"/></linearGradient><linearGradient id="g152" href="#t" x1="1056.7" y1="546.4" x2="1015.5" y2="549.4"><stop offset="0" stop-color="#01b258"/><stop offset="1" stop-color="#01b725"/></linearGradient><linearGradient id="g153" href="#t" x1="1146.8" y1="606.2" x2="1143.7" y2="612.1"><stop offset="0" stop-color="#03b5ae"/><stop offset="1" stop-color="#02b593"/></linearGradient><linearGradient id="g154" href="#t" x1="801.9" y1="362.4" x2="791.4" y2="326.9"><stop offset="0" stop-color="#f69608"/><stop offset="1" stop-color="#ff6211"/></linearGradient><linearGradient id="g155" href="#t" x1="1321.5" y1="603" x2="1318.6" y2="594.7"><stop offset="0" stop-color="#00ffe6"/><stop offset="1" stop-color="#00ff9f"/></linearGradient><linearGradient id="g156" href="#t" x1="873.5" y1="422.7" x2="850.5" y2="380.4"><stop offset="0" stop-color="#b8d703"/><stop offset="0.47" stop-color="#e1e104"/><stop offset="1" stop-color="#ebc506"/></linearGradient><linearGradient id="g157" href="#t" x1="947" y1="479.6" x2="907.7" y2="442.1"><stop offset="0" stop-color="#3cc201"/><stop offset="1" stop-color="#84d002"/></linearGradient><linearGradient id="g158" href="#t" x1="1108.1" y1="585.1" x2="1095" y2="597.2"><stop offset="0" stop-color="#02b593"/><stop offset="1" stop-color="#01b66e"/></linearGradient><linearGradient id="g159" href="#t" x1="1016.9" y1="525.5" x2="968.1" y2="510.4"><stop offset="0" stop-color="#01b725"/><stop offset="0.64" stop-color="#01bc01"/><stop offset="1" stop-color="#17bf01"/></linearGradient><linearGradient id="g160" href="#t" x1="755" y1="337" x2="748.7" y2="303.6"><stop offset="0" stop-color="#ff6a19"/><stop offset="1" stop-color="#ff3017"/></linearGradient><linearGradient id="g161" href="#t" x1="1073.5" y1="562.3" x2="1042.1" y2="573"><stop offset="0" stop-color="#01b66e"/><stop offset="1" stop-color="#01b840"/></linearGradient><linearGradient id="g162" href="#t" x1="1437.4" y1="515" x2="1422.7" y2="489.9"><stop offset="0" stop-color="#00ff29"/><stop offset="0.26" stop-color="#00ff00"/><stop offset="1" stop-color="#72ff00"/></linearGradient><linearGradient id="g163" href="#t" x1="824.9" y1="392" x2="810.3" y2="353.9"><stop offset="0" stop-color="#ebc506"/><stop offset="1" stop-color="#ff940c"/></linearGradient><linearGradient id="g164" href="#t" x1="1367.8" y1="573.7" x2="1361.2" y2="560.2"><stop offset="0" stop-color="#00ff9f"/><stop offset="1" stop-color="#00ff3b"/></linearGradient><linearGradient id="g165" href="#t" x1="897.8" y1="450.1" x2="868.6" y2="408.6"><stop offset="0" stop-color="#84d002"/><stop offset="1" stop-color="#d5e104"/></linearGradient><linearGradient id="g166" href="#t" x1="1211.7" y1="619.8" x2="1211.5" y2="626"><stop offset="0" stop-color="#00f7ff"/><stop offset="0.21" stop-color="#02f2f2"/><stop offset="1" stop-color="#09c3ad"/></linearGradient><linearGradient id="g167" href="#t" x1="1255.8" y1="621.9" x2="1255.3" y2="618.2"><stop offset="0" stop-color="#00fdff"/><stop offset="0.05" stop-color="#00ffff"/><stop offset="1" stop-color="#00ffd2"/></linearGradient><linearGradient id="g168" href="#t" x1="971.1" y1="501.9" x2="926.2" y2="471.6"><stop offset="0" stop-color="#17bf01"/><stop offset="1" stop-color="#58c902"/></linearGradient><linearGradient id="g169" href="#t" x1="1168.5" y1="615.2" x2="1167.2" y2="619.3"><stop offset="0" stop-color="#03b5ae"/><stop offset="1" stop-color="#03bc9f"/></linearGradient><linearGradient id="g170" href="#t" x1="777" y1="364.4" x2="768.8" y2="332.6"><stop offset="0" stop-color="#ff940c"/><stop offset="1" stop-color="#ff6211"/></linearGradient><linearGradient id="g171" href="#t" x1="1037" y1="542.1" x2="991.1" y2="538.7"><stop offset="0" stop-color="#01b840"/><stop offset="1" stop-color="#01bd0c"/></linearGradient><linearGradient id="g172" href="#t" x1="1127.2" y1="599.5" x2="1120.4" y2="609.1"><stop offset="0" stop-color="#03bc9f"/><stop offset="1" stop-color="#02bb80"/></linearGradient><linearGradient id="g173" href="#t" x1="1300.7" y1="608.8" x2="1298.8" y2="603.1"><stop offset="0" stop-color="#00ffe0"/><stop offset="1" stop-color="#00ffa3"/></linearGradient><linearGradient id="g174" href="#t" x1="848.5" y1="420.2" x2="828.9" y2="380.4"><stop offset="0" stop-color="#d5e104"/><stop offset="0.19" stop-color="#e5e505"/><stop offset="1" stop-color="#f6c008"/></linearGradient><linearGradient id="g175" href="#t" x1="730.6" y1="345.9" x2="725.6" y2="312.9"><stop offset="0" stop-color="#ff7825"/><stop offset="1" stop-color="#ff4423"/></linearGradient><linearGradient id="g176" href="#t" x1="922.4" y1="475.1" x2="886.4" y2="436.6"><stop offset="0" stop-color="#58c902"/><stop offset="1" stop-color="#a1d803"/></linearGradient><linearGradient id="g177" href="#t" x1="1090.5" y1="578.1" x2="1069.1" y2="591.7"><stop offset="0" stop-color="#02bb80"/><stop offset="1" stop-color="#02bb57"/></linearGradient><linearGradient id="g178" href="#t" x1="1416.1" y1="530.1" x2="1403.8" y2="509.5"><stop offset="0" stop-color="#00ff3b"/><stop offset="0.42" stop-color="#00ff00"/><stop offset="1" stop-color="#51ff00"/></linearGradient><linearGradient id="g179" href="#t" x1="994.2" y1="521.3" x2="945.9" y2="500.7"><stop offset="0" stop-color="#01bd0c"/><stop offset="0.18" stop-color="#01be01"/><stop offset="1" stop-color="#32c502"/></linearGradient><linearGradient id="g180" href="#t" x1="1346.7" y1="583.8" x2="1341.8" y2="573.6"><stop offset="0" stop-color="#00ffa3"/><stop offset="1" stop-color="#00ff4b"/></linearGradient><linearGradient id="g181" href="#t" x1="799.8" y1="392.2" x2="788.2" y2="358.2"><stop offset="0" stop-color="#f6c008"/><stop offset="1" stop-color="#ff9312"/></linearGradient><linearGradient id="g182" href="#t" x1="1055.4" y1="557.8" x2="1016.1" y2="563.8"><stop offset="0" stop-color="#02bb57"/><stop offset="1" stop-color="#01bd28"/></linearGradient><linearGradient id="g183" href="#t" x1="872.8" y1="446.8" x2="847" y2="406.5"><stop offset="0" stop-color="#a1d803"/><stop offset="0.91" stop-color="#e9e906"/><stop offset="1" stop-color="#eae406"/></linearGradient><linearGradient id="g184" href="#t" x1="1190.9" y1="620.5" x2="1190.4" y2="624.6"><stop offset="0" stop-color="#05bcb1"/><stop offset="1" stop-color="#0acda9"/></linearGradient><linearGradient id="g185" href="#t" x1="1232.9" y1="615.4" x2="1236.3" y2="628.8"><stop offset="0" stop-color="#00fff1"/><stop offset="1" stop-color="#0ecaa3"/></linearGradient><linearGradient id="g186" href="#t" x1="751.8" y1="368.1" x2="745.6" y2="338.9"><stop offset="0" stop-color="#ff9312"/><stop offset="1" stop-color="#ff6a19"/></linearGradient><linearGradient id="g187" href="#t" x1="1147.9" y1="611.5" x2="1144.9" y2="618.2"><stop offset="0" stop-color="#06c4a7"/><stop offset="1" stop-color="#04c28f"/></linearGradient><linearGradient id="g188" href="#t" x1="946.9" y1="497.5" x2="904.7" y2="464.6"><stop offset="0" stop-color="#32c502"/><stop offset="1" stop-color="#74d102"/></linearGradient><linearGradient id="g189" href="#t" x1="1279.7" y1="614.6" x2="1278.6" y2="610.5"><stop offset="0" stop-color="#00ffd9"/><stop offset="1" stop-color="#00ffa6"/></linearGradient><linearGradient id="g190" href="#t" x1="705.8" y1="356.9" x2="702.5" y2="324.4"><stop offset="0" stop-color="#ff8b35"/><stop offset="1" stop-color="#ff5f34"/></linearGradient><linearGradient id="g191" href="#t" x1="1394.6" y1="544.8" x2="1384.8" y2="528.4"><stop offset="0" stop-color="#00ff4b"/><stop offset="0.6" stop-color="#00ff00"/><stop offset="1" stop-color="#33ff00"/></linearGradient><linearGradient id="g192" href="#t" x1="1015.7" y1="538.7" x2="967.5" y2="528.5"><stop offset="0" stop-color="#01bd28"/><stop offset="0.72" stop-color="#02c102"/><stop offset="1" stop-color="#11c202"/></linearGradient><linearGradient id="g193" href="#t" x1="1108.8" y1="593.1" x2="1095.3" y2="606.3"><stop offset="0" stop-color="#04c28f"/><stop offset="1" stop-color="#02c06b"/></linearGradient><linearGradient id="g194" href="#t" x1="823.3" y1="419" x2="806.8" y2="382.1"><stop offset="0" stop-color="#eae406"/><stop offset="1" stop-color="#ffbe0c"/></linearGradient><linearGradient id="g195" href="#t" x1="1466" y1="470" x2="1447.2" y2="441.8"><stop offset="0" stop-color="#51ff00"/><stop offset="0.94" stop-color="#ffff00"/><stop offset="1" stop-color="#fff500"/></linearGradient><linearGradient id="g196" href="#t" x1="1325.5" y1="593.5" x2="1322.2" y2="586.3"><stop offset="0" stop-color="#00ffa6"/><stop offset="1" stop-color="#00ff5a"/></linearGradient><linearGradient id="g197" href="#t" x1="897.5" y1="471.3" x2="864.9" y2="432.6"><stop offset="0" stop-color="#74d102"/><stop offset="1" stop-color="#bce004"/></linearGradient><linearGradient id="g198" href="#t" x1="1073.2" y1="573.1" x2="1042.2" y2="585"><stop offset="0" stop-color="#02c06b"/><stop offset="1" stop-color="#02bf40"/></linearGradient><linearGradient id="g199" href="#t" x1="774.4" y1="393.9" x2="765.7" y2="364.4"><stop offset="0" stop-color="#ffbe0c"/><stop offset="1" stop-color="#ff961a"/></linearGradient><linearGradient id="g200" href="#t" x1="970.6" y1="517.6" x2="923.9" y2="492.3"><stop offset="0" stop-color="#11c202"/><stop offset="1" stop-color="#4dcb02"/></linearGradient><linearGradient id="g201" href="#t" x1="727" y1="375.9" x2="722.3" y2="347.2"><stop offset="0" stop-color="#ff9f26"/><stop offset="1" stop-color="#ff7825"/></linearGradient><linearGradient id="g202" href="#t" x1="1213.6" y1="622.5" x2="1213.9" y2="627.1"><stop offset="0" stop-color="#09c3ad"/><stop offset="1" stop-color="#0fd5a5"/></linearGradient><linearGradient id="g203" href="#t" x1="847.5" y1="444.5" x2="825" y2="406"><stop offset="0" stop-color="#bce004"/><stop offset="0.65" stop-color="#eded07"/><stop offset="1" stop-color="#f4df09"/></linearGradient><linearGradient id="g204" href="#t" x1="1170.1" y1="619" x2="1168.7" y2="624.7"><stop offset="0" stop-color="#06c4a7"/><stop offset="1" stop-color="#0ad5a2"/></linearGradient><linearGradient id="g205" href="#t" x1="1035.8" y1="554.8" x2="990.9" y2="554.1"><stop offset="0" stop-color="#02bf40"/><stop offset="1" stop-color="#02c20f"/></linearGradient><linearGradient id="g206" href="#t" x1="680.7" y1="369.8" x2="679.4" y2="338.1"><stop offset="0" stop-color="#ffa248"/><stop offset="1" stop-color="#ff7e48"/></linearGradient><linearGradient id="g207" href="#t" x1="1373" y1="559.2" x2="1365.5" y2="546.7"><stop offset="0" stop-color="#00ff5a"/><stop offset="0.81" stop-color="#00ff00"/><stop offset="1" stop-color="#16ff00"/></linearGradient><linearGradient id="g208" href="#t" x1="1255.2" y1="612.7" x2="1261.1" y2="623.7"><stop offset="0" stop-color="#00ffd2"/><stop offset="1" stop-color="#00ffa8"/></linearGradient><linearGradient id="g209" href="#t" x1="1128.4" y1="606.5" x2="1120.8" y2="617.8"><stop offset="0" stop-color="#06ca9b"/><stop offset="1" stop-color="#04c77d"/></linearGradient><linearGradient id="g210" href="#t" x1="1444.1" y1="489.7" x2="1428.3" y2="467"><stop offset="0" stop-color="#33ff00"/><stop offset="1" stop-color="#daff00"/></linearGradient><linearGradient id="g211" href="#t" x1="922.2" y1="493.7" x2="883" y2="459"><stop offset="0" stop-color="#4dcb02"/><stop offset="1" stop-color="#8fd803"/></linearGradient><linearGradient id="g212" href="#t" x1="797.8" y1="419" x2="784.5" y2="385.7"><stop offset="0" stop-color="#f4df09"/><stop offset="1" stop-color="#ffb912"/></linearGradient><linearGradient id="g213" href="#t" x1="1304.3" y1="603.2" x2="1302.1" y2="597.7"><stop offset="0" stop-color="#00ffa8"/><stop offset="1" stop-color="#00ff68"/></linearGradient><linearGradient id="g214" href="#t" x1="1091.6" y1="588" x2="1068.3" y2="602.6"><stop offset="0" stop-color="#04c77d"/><stop offset="1" stop-color="#03c456"/></linearGradient><linearGradient id="g215" href="#t" x1="993.2" y1="535.7" x2="944.6" y2="519.3"><stop offset="0" stop-color="#02c20f"/><stop offset="0.25" stop-color="#02c402"/><stop offset="1" stop-color="#2bc802"/></linearGradient><linearGradient id="g216" href="#t" x1="748.8" y1="396.9" x2="742.3" y2="370.1"><stop offset="0" stop-color="#ffb912"/><stop offset="1" stop-color="#ff961a"/></linearGradient><linearGradient id="g217" href="#t" x1="872.3" y1="468.4" x2="842.9" y2="430.2"><stop offset="0" stop-color="#8fd803"/><stop offset="1" stop-color="#d6e906"/></linearGradient><linearGradient id="g218" href="#t" x1="1055.2" y1="570.3" x2="1015.4" y2="576.9"><stop offset="0" stop-color="#03c456"/><stop offset="1" stop-color="#02c429"/></linearGradient><linearGradient id="g219" href="#t" x1="701.9" y1="385.8" x2="698.9" y2="357.5"><stop offset="0" stop-color="#ffac33"/><stop offset="1" stop-color="#ff8b35"/></linearGradient><linearGradient id="g220" href="#t" x1="655.2" y1="384.7" x2="656.4" y2="354.1"><stop offset="0" stop-color="#ffba5a"/><stop offset="1" stop-color="#ff9e5e"/></linearGradient><linearGradient id="g221" href="#t" x1="946.4" y1="514.1" x2="901.9" y2="485.4"><stop offset="0" stop-color="#2bc802"/><stop offset="1" stop-color="#67d203"/></linearGradient><linearGradient id="g222" href="#t" x1="1351.3" y1="573.1" x2="1346" y2="564.1"><stop offset="0" stop-color="#00ff68"/><stop offset="1" stop-color="#00ff06"/></linearGradient><linearGradient id="g223" href="#t" x1="1422.1" y1="509" x2="1409.3" y2="491.4"><stop offset="0" stop-color="#16ff00"/><stop offset="1" stop-color="#aeff00"/></linearGradient><linearGradient id="g224" href="#t" x1="1192.6" y1="623.6" x2="1192.3" y2="630"><stop offset="0" stop-color="#0acda9"/><stop offset="1" stop-color="#10dfa5"/></linearGradient><linearGradient id="g225" href="#t" x1="822" y1="443.3" x2="802.8" y2="407.1"><stop offset="0" stop-color="#d6e906"/><stop offset="0.38" stop-color="#f0f009"/><stop offset="1" stop-color="#fddc0c"/></linearGradient><linearGradient id="g226" href="#t" x1="1236.5" y1="621.4" x2="1237.8" y2="626.4"><stop offset="0" stop-color="#0ecaa3"/><stop offset="1" stop-color="#16dd9a"/></linearGradient><linearGradient id="g227" href="#t" x1="1149.4" y1="617.7" x2="1145.7" y2="626.3"><stop offset="0" stop-color="#06ca9b"/><stop offset="1" stop-color="#06d08d"/></linearGradient><linearGradient id="g228" href="#t" x1="1014.7" y1="552.7" x2="966.7" y2="544.7"><stop offset="0" stop-color="#02c429"/><stop offset="0.78" stop-color="#02c602"/><stop offset="1" stop-color="#0dc702"/></linearGradient><linearGradient id="g229" href="#t" x1="1110.7" y1="601.9" x2="1094.1" y2="617.1"><stop offset="0" stop-color="#06d08d"/><stop offset="1" stop-color="#04cb6b"/></linearGradient><linearGradient id="g230" href="#t" x1="1274.8" y1="604.4" x2="1291.9" y2="618.1"><stop offset="0" stop-color="#13d090"/><stop offset="1" stop-color="#00ff74"/></linearGradient><linearGradient id="g231" href="#t" x1="897.2" y1="490.6" x2="861" y2="454.8"><stop offset="0" stop-color="#67d203"/><stop offset="1" stop-color="#a9df05"/></linearGradient><linearGradient id="g232" href="#t" x1="772" y1="420.3" x2="761.9" y2="391.1"><stop offset="0" stop-color="#fddc0c"/><stop offset="1" stop-color="#ffb81a"/></linearGradient><linearGradient id="g233" href="#t" x1="1495.4" y1="417.1" x2="1472.7" y2="388.1"><stop offset="0" stop-color="#daff00"/><stop offset="0.17" stop-color="#ffff00"/><stop offset="1" stop-color="#ff4e00"/></linearGradient><linearGradient id="g234" href="#t" x1="1074.7" y1="585.4" x2="1040.3" y2="596.7"><stop offset="0" stop-color="#04cb6b"/><stop offset="1" stop-color="#03c841"/></linearGradient><linearGradient id="g235" href="#t" x1="723.3" y1="402.2" x2="718.7" y2="377.4"><stop offset="0" stop-color="#ffbd24"/><stop offset="1" stop-color="#ff9f26"/></linearGradient><linearGradient id="g236" href="#t" x1="969.7" y1="533" x2="922" y2="511.4"><stop offset="0" stop-color="#0dc702"/><stop offset="1" stop-color="#45cd03"/></linearGradient><linearGradient id="g237" href="#t" x1="629.2" y1="401.5" x2="633.7" y2="372.6"><stop offset="0" stop-color="#ffd06a"/><stop offset="1" stop-color="#ffbc73"/></linearGradient><linearGradient id="g238" href="#t" x1="1399.8" y1="527.9" x2="1390.2" y2="515"><stop offset="0" stop-color="#00ff06"/><stop offset="0.04" stop-color="#00ff00"/><stop offset="1" stop-color="#83ff00"/></linearGradient><linearGradient id="g239" href="#t" x1="676.3" y1="397.5" x2="675.6" y2="369.9"><stop offset="0" stop-color="#ffbc43"/><stop offset="1" stop-color="#ffa248"/></linearGradient><linearGradient id="g240" href="#t" x1="846.8" y1="466.4" x2="820.7" y2="429.2"><stop offset="0" stop-color="#a9df05"/><stop offset="1" stop-color="#edf109"/></linearGradient><linearGradient id="g241" href="#t" x1="1329.8" y1="587.2" x2="1325.9" y2="579.7"><stop offset="0" stop-color="#00ff74"/><stop offset="1" stop-color="#00ff1f"/></linearGradient><linearGradient id="g242" href="#t" x1="1035.5" y1="569.2" x2="989.8" y2="568"><stop offset="0" stop-color="#03c841"/><stop offset="1" stop-color="#02c812"/></linearGradient><linearGradient id="g243" href="#t" x1="1472.7" y1="441.9" x2="1454" y2="419.6"><stop offset="0" stop-color="#aeff00"/><stop offset="0.41" stop-color="#ffff00"/><stop offset="1" stop-color="#ff8c00"/></linearGradient><linearGradient id="g244" href="#t" x1="921.7" y1="511.1" x2="879.7" y2="479.9"><stop offset="0" stop-color="#45cd03"/><stop offset="1" stop-color="#81d804"/></linearGradient><linearGradient id="g245" href="#t" x1="1171.7" y1="624.3" x2="1170.2" y2="632.6"><stop offset="0" stop-color="#0ad5a2"/><stop offset="1" stop-color="#11e7a2"/></linearGradient><linearGradient id="g246" href="#t" x1="1215.2" y1="625.4" x2="1216.5" y2="632.4"><stop offset="0" stop-color="#0fd5a5"/><stop offset="1" stop-color="#19e9a1"/></linearGradient><linearGradient id="g247" href="#t" x1="796.1" y1="443.3" x2="780.2" y2="410"><stop offset="0" stop-color="#edf109"/><stop offset="0.08" stop-color="#f2f20a"/><stop offset="1" stop-color="#ffd612"/></linearGradient><linearGradient id="g248" href="#t" x1="1130.6" y1="614.7" x2="1119.8" y2="628.9"><stop offset="0" stop-color="#0adb99"/><stop offset="1" stop-color="#06d47d"/></linearGradient><linearGradient id="g249" href="#t" x1="1259.7" y1="617" x2="1263.1" y2="623.4"><stop offset="0" stop-color="#13d090"/><stop offset="1" stop-color="#19d476"/></linearGradient><linearGradient id="g250" href="#t" x1="992.1" y1="551" x2="943.4" y2="536.3"><stop offset="0" stop-color="#02c812"/><stop offset="0.31" stop-color="#02c902"/><stop offset="1" stop-color="#26cc03"/></linearGradient><linearGradient id="g251" href="#t" x1="746" y1="422.9" x2="738.6" y2="397.7"><stop offset="0" stop-color="#ffd612"/><stop offset="1" stop-color="#ffb81a"/></linearGradient><linearGradient id="g252" href="#t" x1="1094.7" y1="599.6" x2="1065.1" y2="614.1"><stop offset="0" stop-color="#06d47d"/><stop offset="1" stop-color="#04cf57"/></linearGradient><linearGradient id="g253" href="#t" x1="1377.6" y1="546.6" x2="1370.7" y2="537.3"><stop offset="0" stop-color="#00ff1f"/><stop offset="0.25" stop-color="#00ff00"/><stop offset="1" stop-color="#5bff00"/></linearGradient><linearGradient id="g254" href="#t" x1="871.9" y1="488.1" x2="838.6" y2="452.1"><stop offset="0" stop-color="#81d804"/><stop offset="1" stop-color="#c1e706"/></linearGradient><linearGradient id="g255" href="#t" x1="697.8" y1="411.1" x2="695" y2="386.5"><stop offset="0" stop-color="#ffc52f"/><stop offset="1" stop-color="#ffac33"/></linearGradient><linearGradient id="g256" href="#t" x1="650.3" y1="411" x2="652.5" y2="384.5"><stop offset="0" stop-color="#ffce52"/><stop offset="1" stop-color="#ffba5a"/></linearGradient><linearGradient id="g257" href="#t" x1="1299.8" y1="592.6" x2="1315.4" y2="604.1"><stop offset="0" stop-color="#19d476"/><stop offset="1" stop-color="#00ff36"/></linearGradient><linearGradient id="g258" href="#t" x1="1449.7" y1="466.3" x2="1435.3" y2="450"><stop offset="0" stop-color="#83ff00"/><stop offset="0.69" stop-color="#ffff00"/><stop offset="1" stop-color="#ffc700"/></linearGradient><linearGradient id="g259" href="#t" x1="1056.5" y1="585.3" x2="1013.3" y2="588.9"><stop offset="0" stop-color="#04cf57"/><stop offset="1" stop-color="#03cc2b"/></linearGradient><linearGradient id="g260" href="#t" x1="945.4" y1="530.5" x2="899.5" y2="504.8"><stop offset="0" stop-color="#26cc03"/><stop offset="1" stop-color="#5ed303"/></linearGradient><linearGradient id="g261" href="#t" x1="821" y1="465.4" x2="798.1" y2="429.8"><stop offset="0" stop-color="#c1e706"/><stop offset="0.81" stop-color="#f6f60b"/><stop offset="1" stop-color="#f9f00c"/></linearGradient><linearGradient id="g262" href="#t" x1="1193.8" y1="628.6" x2="1194.6" y2="638.1"><stop offset="0" stop-color="#10dfa5"/><stop offset="1" stop-color="#1af2a6"/></linearGradient><linearGradient id="g263" href="#t" x1="1013.9" y1="568.8" x2="965.6" y2="559.4"><stop offset="0" stop-color="#03cc2b"/><stop offset="0.84" stop-color="#03cc03"/><stop offset="1" stop-color="#0bcc03"/></linearGradient><linearGradient id="g264" href="#t" x1="1151.5" y1="625.5" x2="1145.8" y2="637.9"><stop offset="0" stop-color="#0adb99"/><stop offset="1" stop-color="#0ae08e"/></linearGradient><linearGradient id="g265" href="#t" x1="769.9" y1="444.4" x2="757.3" y2="414.6"><stop offset="0" stop-color="#f9f00c"/><stop offset="1" stop-color="#ffd218"/></linearGradient><linearGradient id="g266" href="#t" x1="896.6" y1="508.5" x2="857.2" y2="475.7"><stop offset="0" stop-color="#5ed303"/><stop offset="1" stop-color="#9ade05"/></linearGradient><linearGradient id="g267" href="#t" x1="1357" y1="569.7" x2="1349" y2="553.1"><stop offset="0" stop-color="#00ff36"/><stop offset="0.51" stop-color="#00ff00"/><stop offset="1" stop-color="#35ff00"/></linearGradient><linearGradient id="g268" href="#t" x1="1237.9" y1="624.5" x2="1242.2" y2="633.5"><stop offset="0" stop-color="#16dd9a"/><stop offset="1" stop-color="#1fe388"/></linearGradient><linearGradient id="g269" href="#t" x1="1115.2" y1="612.8" x2="1089.7" y2="629.5"><stop offset="0" stop-color="#0ae08e"/><stop offset="1" stop-color="#06d86d"/></linearGradient><linearGradient id="g270" href="#t" x1="719.7" y1="426.5" x2="714.6" y2="404"><stop offset="0" stop-color="#ffd218"/><stop offset="1" stop-color="#ffbd24"/></linearGradient><linearGradient id="g271" href="#t" x1="1426.7" y1="490.6" x2="1416.2" y2="479.2"><stop offset="0" stop-color="#5bff00"/><stop offset="1" stop-color="#feff00"/></linearGradient><linearGradient id="g272" href="#t" x1="671.8" y1="421.6" x2="671.5" y2="397.6"><stop offset="0" stop-color="#ffcf3c"/><stop offset="1" stop-color="#ffbc43"/></linearGradient><linearGradient id="g273" href="#t" x1="1282.3" y1="607.3" x2="1289.7" y2="616.1"><stop offset="0" stop-color="#1fe388"/><stop offset="1" stop-color="#1fd655"/></linearGradient><linearGradient id="g274" href="#t" x1="968.3" y1="549.4" x2="920.4" y2="529"><stop offset="0" stop-color="#0bcc03"/><stop offset="1" stop-color="#3fd003"/></linearGradient><linearGradient id="g275" href="#t" x1="1078" y1="601.1" x2="1036.4" y2="607.6"><stop offset="0" stop-color="#06d86d"/><stop offset="1" stop-color="#04d243"/></linearGradient><linearGradient id="g276" href="#t" x1="846.2" y1="486.4" x2="815.9" y2="450.7"><stop offset="0" stop-color="#9ade05"/><stop offset="1" stop-color="#d8ee09"/></linearGradient><linearGradient id="g277" href="#t" x1="1035.8" y1="586.5" x2="988.1" y2="580.5"><stop offset="0" stop-color="#04d243"/><stop offset="1" stop-color="#03cf15"/></linearGradient><linearGradient id="g278" href="#t" x1="794.9" y1="465.4" x2="775.2" y2="431.9"><stop offset="0" stop-color="#d8ee09"/><stop offset="0.54" stop-color="#f7f70d"/><stop offset="1" stop-color="#ffec11"/></linearGradient><linearGradient id="g279" href="#t" x1="920.6" y1="528.2" x2="876.8" y2="499.6"><stop offset="0" stop-color="#3fd003"/><stop offset="1" stop-color="#77d804"/></linearGradient><linearGradient id="g280" href="#t" x1="1326.8" y1="576.8" x2="1338" y2="585.4"><stop offset="0" stop-color="#1fd655"/><stop offset="0.81" stop-color="#06f706"/><stop offset="1" stop-color="#11ff00"/></linearGradient><linearGradient id="g281" href="#t" x1="1405.1" y1="516.6" x2="1395.5" y2="504.7"><stop offset="0" stop-color="#35ff00"/><stop offset="1" stop-color="#c8ff00"/></linearGradient><linearGradient id="g282" href="#t" x1="1173.3" y1="631.2" x2="1171.9" y2="643"><stop offset="0" stop-color="#11e7a2"/><stop offset="1" stop-color="#1bf9a8"/></linearGradient><linearGradient id="g283" href="#t" x1="743.4" y1="446.6" x2="734.2" y2="421.1"><stop offset="0" stop-color="#ffec11"/><stop offset="1" stop-color="#ffd220"/></linearGradient><linearGradient id="g284" href="#t" x1="1215.5" y1="631" x2="1221.4" y2="643.7"><stop offset="0" stop-color="#19e9a1"/><stop offset="1" stop-color="#23f097"/></linearGradient><linearGradient id="g285" href="#t" x1="1135.9" y1="624.8" x2="1114.2" y2="643.3"><stop offset="0" stop-color="#11ec9d"/><stop offset="1" stop-color="#0ae381"/></linearGradient><linearGradient id="g286" href="#t" x1="990.8" y1="568.3" x2="942.2" y2="551.8"><stop offset="0" stop-color="#03cf15"/><stop offset="0.37" stop-color="#03cf03"/><stop offset="1" stop-color="#22d003"/></linearGradient><linearGradient id="g287" href="#t" x1="693.5" y1="433.2" x2="690.7" y2="411.9"><stop offset="0" stop-color="#ffd62a"/><stop offset="1" stop-color="#ffc52f"/></linearGradient><linearGradient id="g288" href="#t" x1="871.1" y1="506.5" x2="834.4" y2="472.8"><stop offset="0" stop-color="#77d804"/><stop offset="1" stop-color="#b1e506"/></linearGradient><linearGradient id="g289" href="#t" x1="1259.2" y1="618.4" x2="1270.3" y2="630.9"><stop offset="0" stop-color="#23f097"/><stop offset="1" stop-color="#26e76f"/></linearGradient><linearGradient id="g290" href="#t" x1="1100.3" y1="616.4" x2="1058.9" y2="624"><stop offset="0" stop-color="#0ae381"/><stop offset="1" stop-color="#06db5b"/></linearGradient><linearGradient id="g291" href="#t" x1="943.8" y1="547.7" x2="897.5" y2="523"><stop offset="0" stop-color="#22d003"/><stop offset="1" stop-color="#57d504"/></linearGradient><linearGradient id="g292" href="#t" x1="820.3" y1="485.6" x2="792.9" y2="450.7"><stop offset="0" stop-color="#b1e506"/><stop offset="1" stop-color="#edf50b"/></linearGradient><linearGradient id="g293" href="#t" x1="1058.1" y1="604.5" x2="1010.6" y2="599.3"><stop offset="0" stop-color="#06db5b"/><stop offset="1" stop-color="#04d52f"/></linearGradient><linearGradient id="g294" href="#t" x1="1370.8" y1="531.9" x2="1388.6" y2="540.5"><stop offset="0" stop-color="#11ff00"/><stop offset="1" stop-color="#94ff00"/></linearGradient><linearGradient id="g295" href="#t" x1="1304.1" y1="593.9" x2="1318" y2="604.6"><stop offset="0" stop-color="#26e76f"/><stop offset="1" stop-color="#23d82e"/></linearGradient><linearGradient id="g296" href="#t" x1="768.5" y1="466.4" x2="752" y2="435.5"><stop offset="0" stop-color="#edf50b"/><stop offset="0.24" stop-color="#f7f70e"/><stop offset="1" stop-color="#ffe516"/></linearGradient><linearGradient id="g297" href="#t" x1="1013" y1="587.7" x2="964.5" y2="572.9"><stop offset="0" stop-color="#04d52f"/><stop offset="0.91" stop-color="#04d204"/><stop offset="1" stop-color="#08d204"/></linearGradient><linearGradient id="g298" href="#t" x1="895.4" y1="526.2" x2="853.8" y2="495.5"><stop offset="0" stop-color="#57d504"/><stop offset="1" stop-color="#8ede05"/></linearGradient><linearGradient id="g299" href="#t" x1="1192.5" y1="636" x2="1200.5" y2="654.4"><stop offset="0" stop-color="#1af2a6"/><stop offset="1" stop-color="#27fba5"/></linearGradient><linearGradient id="g300" href="#t" x1="1155.8" y1="636" x2="1139.7" y2="656.2"><stop offset="0" stop-color="#11ec9d"/><stop offset="1" stop-color="#10f095"/></linearGradient><linearGradient id="g301" href="#t" x1="716.6" y1="449.7" x2="710.2" y2="427.7"><stop offset="0" stop-color="#ffe516"/><stop offset="1" stop-color="#ffd220"/></linearGradient><linearGradient id="g302" href="#t" x1="1123.6" y1="631.9" x2="1079.9" y2="637.3"><stop offset="0" stop-color="#10f095"/><stop offset="1" stop-color="#09e673"/></linearGradient><linearGradient id="g303" href="#t" x1="1234.6" y1="628.9" x2="1252.7" y2="645.5"><stop offset="0" stop-color="#27fba5"/><stop offset="1" stop-color="#2ef587"/></linearGradient><linearGradient id="g304" href="#t" x1="966.5" y1="567.6" x2="919.1" y2="545.5"><stop offset="0" stop-color="#08d204"/><stop offset="1" stop-color="#39d404"/></linearGradient><linearGradient id="g305" href="#t" x1="1350.2" y1="555.7" x2="1366.1" y2="564.7"><stop offset="0" stop-color="#23d82e"/><stop offset="0.14" stop-color="#1edc1e"/><stop offset="1" stop-color="#64ff00"/></linearGradient><linearGradient id="g306" href="#t" x1="845.4" y1="505.1" x2="811.1" y2="471.1"><stop offset="0" stop-color="#8ede05"/><stop offset="1" stop-color="#c7eb08"/></linearGradient><linearGradient id="g307" href="#t" x1="1080.6" y1="623.1" x2="1033" y2="615.4"><stop offset="0" stop-color="#09e673"/><stop offset="1" stop-color="#06dd49"/></linearGradient><linearGradient id="g308" href="#t" x1="1278.9" y1="609.8" x2="1300.8" y2="623.4"><stop offset="0" stop-color="#2ef587"/><stop offset="1" stop-color="#2de950"/></linearGradient><linearGradient id="g309" href="#t" x1="794.1" y1="485.6" x2="769.4" y2="452"><stop offset="0" stop-color="#c7eb08"/><stop offset="0.92" stop-color="#fafa0f"/><stop offset="1" stop-color="#fbf80f"/></linearGradient><linearGradient id="g310" href="#t" x1="1035.2" y1="607.7" x2="987.2" y2="592"><stop offset="0" stop-color="#06dd49"/><stop offset="1" stop-color="#04d71b"/></linearGradient><linearGradient id="g311" href="#t" x1="918.8" y1="546.1" x2="874.4" y2="518.1"><stop offset="0" stop-color="#39d404"/><stop offset="1" stop-color="#6ed904"/></linearGradient><linearGradient id="g312" href="#t" x1="741.7" y1="468.5" x2="728.6" y2="440.9"><stop offset="0" stop-color="#fbf80f"/><stop offset="1" stop-color="#ffe21d"/></linearGradient><linearGradient id="g313" href="#t" x1="1167.7" y1="629.4" x2="1180.3" y2="674.8"><stop offset="0" stop-color="#1bf9a8"/><stop offset="1" stop-color="#28ffac"/></linearGradient><linearGradient id="g314" href="#t" x1="1324.9" y1="577.8" x2="1348.7" y2="588.8"><stop offset="0" stop-color="#2de950"/><stop offset="0.47" stop-color="#2ae12a"/><stop offset="1" stop-color="#4bd826"/></linearGradient><linearGradient id="g315" href="#t" x1="1146.2" y1="650.1" x2="1099.8" y2="643.2"><stop offset="0" stop-color="#1afea7"/><stop offset="1" stop-color="#0ff38b"/></linearGradient><linearGradient id="g316" href="#t" x1="988.9" y1="588.3" x2="941.5" y2="566.7"><stop offset="0" stop-color="#04d71b"/><stop offset="0.46" stop-color="#04d604"/><stop offset="1" stop-color="#1ed504"/></linearGradient><linearGradient id="g317" href="#t" x1="1207.2" y1="640.6" x2="1240.1" y2="657.6"><stop offset="0" stop-color="#28ffac"/><stop offset="1" stop-color="#35ff9c"/></linearGradient><linearGradient id="g318" href="#t" x1="869.8" y1="524.6" x2="830.5" y2="492.6"><stop offset="0" stop-color="#6ed904"/><stop offset="1" stop-color="#a5e306"/></linearGradient><linearGradient id="g319" href="#t" x1="1102.4" y1="642.8" x2="1056.4" y2="627.8"><stop offset="0" stop-color="#0ff38b"/><stop offset="1" stop-color="#09e764"/></linearGradient><linearGradient id="g320" href="#t" x1="1251.7" y1="626.7" x2="1286.1" y2="639.3"><stop offset="0" stop-color="#35ff9c"/><stop offset="1" stop-color="#38f871"/></linearGradient><linearGradient id="g321" href="#t" x1="819.4" y1="504.4" x2="787.5" y2="470.6"><stop offset="0" stop-color="#a5e306"/><stop offset="1" stop-color="#dcf10b"/></linearGradient><linearGradient id="g322" href="#t" x1="941.6" y1="566.7" x2="896" y2="540.3"><stop offset="0" stop-color="#1ed504"/><stop offset="1" stop-color="#50d704"/></linearGradient><linearGradient id="g323" href="#t" x1="1057" y1="628.4" x2="1010.8" y2="608.9"><stop offset="0" stop-color="#09e764"/><stop offset="1" stop-color="#06de37"/></linearGradient><linearGradient id="g324" href="#t" x1="767.6" y1="486.7" x2="745.7" y2="454.8"><stop offset="0" stop-color="#dcf10b"/><stop offset="0.64" stop-color="#fafa10"/><stop offset="1" stop-color="#fff313"/></linearGradient><linearGradient id="g325" href="#t" x1="1298.1" y1="600.3" x2="1332.8" y2="610.3"><stop offset="0" stop-color="#38f871"/><stop offset="0.89" stop-color="#32eb32"/><stop offset="1" stop-color="#38e931"/></linearGradient><linearGradient id="g326" href="#t" x1="1010.9" y1="609.7" x2="964.7" y2="586.4"><stop offset="0" stop-color="#06de37"/><stop offset="1" stop-color="#04d906"/></linearGradient><linearGradient id="g327" href="#t" x1="893.3" y1="544.6" x2="851" y2="514.4"><stop offset="0" stop-color="#50d704"/><stop offset="1" stop-color="#85de05"/></linearGradient><linearGradient id="g328" href="#t" x1="1158.1" y1="670.3" x2="1140.8" y2="640.8"><stop offset="0" stop-color="#25ffaf"/><stop offset="1" stop-color="#18ffa2"/></linearGradient><linearGradient id="g329" href="#t" x1="1184.1" y1="664.2" x2="1225.6" y2="646.5"><stop offset="0" stop-color="#28ffae"/><stop offset="1" stop-color="#39ffa9"/></linearGradient><linearGradient id="g330" href="#t" x1="1120.3" y1="662.5" x2="1084.6" y2="636.7"><stop offset="0" stop-color="#18ffa2"/><stop offset="1" stop-color="#0ef480"/></linearGradient><linearGradient id="g331" href="#t" x1="1224.4" y1="648.6" x2="1271.8" y2="647"><stop offset="0" stop-color="#39ffa9"/><stop offset="1" stop-color="#43ff8f"/></linearGradient><linearGradient id="g332" href="#t" x1="844" y1="523.4" x2="806.7" y2="490.7"><stop offset="0" stop-color="#85de05"/><stop offset="1" stop-color="#bbe808"/></linearGradient><linearGradient id="g333" href="#t" x1="964" y1="588.3" x2="918.6" y2="561.6"><stop offset="0" stop-color="#04d906"/><stop offset="0.04" stop-color="#04d904"/><stop offset="1" stop-color="#33d804"/></linearGradient><linearGradient id="g334" href="#t" x1="1077.3" y1="649.4" x2="1036.4" y2="623.8"><stop offset="0" stop-color="#0ef480"/><stop offset="1" stop-color="#08e854"/></linearGradient><linearGradient id="g335" href="#t" x1="793.3" y1="504.5" x2="763.4" y2="471.4"><stop offset="0" stop-color="#bbe808"/><stop offset="1" stop-color="#eef60e"/></linearGradient><linearGradient id="g336" href="#t" x1="1270.9" y1="625.2" x2="1317.4" y2="626.8"><stop offset="0" stop-color="#43ff8f"/><stop offset="1" stop-color="#3ff956"/></linearGradient><linearGradient id="g337" href="#t" x1="916.2" y1="565.7" x2="872.7" y2="536.1"><stop offset="0" stop-color="#33d804"/><stop offset="1" stop-color="#67db05"/></linearGradient><linearGradient id="g338" href="#t" x1="1032.1" y1="631.7" x2="989.1" y2="604.9"><stop offset="0" stop-color="#08e854"/><stop offset="1" stop-color="#06e024"/></linearGradient><linearGradient id="g339" href="#t" x1="1172.8" y1="681.6" x2="1177.5" y2="658.4"><stop offset="0" stop-color="#38ffbb"/><stop offset="1" stop-color="#3bffb3"/></linearGradient><linearGradient id="g340" href="#t" x1="985.8" y1="610.7" x2="942.1" y2="582.3"><stop offset="0" stop-color="#06e024"/><stop offset="0.62" stop-color="#05dd05"/><stop offset="1" stop-color="#17db05"/></linearGradient><linearGradient id="g341" href="#t" x1="867.6" y1="543.3" x2="827.2" y2="511.6"><stop offset="0" stop-color="#67db05"/><stop offset="1" stop-color="#9be206"/></linearGradient><linearGradient id="g342" href="#t" x1="1134.2" y1="676.1" x2="1120.2" y2="650.1"><stop offset="0" stop-color="#21ffae"/><stop offset="1" stop-color="#15ff9b"/></linearGradient><linearGradient id="g343" href="#t" x1="1207.8" y1="673.5" x2="1243.8" y2="647.2"><stop offset="0" stop-color="#3bffb3"/><stop offset="1" stop-color="#4bffa5"/></linearGradient><linearGradient id="g344" href="#t" x1="1095" y1="668.9" x2="1065.5" y2="638.5"><stop offset="0" stop-color="#15ff9b"/><stop offset="1" stop-color="#0cf473"/></linearGradient><linearGradient id="g345" href="#t" x1="817.9" y1="522.8" x2="782.5" y2="489.9"><stop offset="0" stop-color="#9be206"/><stop offset="1" stop-color="#ceed0a"/></linearGradient><linearGradient id="g346" href="#t" x1="1247.6" y1="653.4" x2="1297.2" y2="636.9"><stop offset="0" stop-color="#4bffa5"/><stop offset="1" stop-color="#4eff7e"/></linearGradient><linearGradient id="g347" href="#t" x1="938.6" y1="587.9" x2="895.3" y2="557.7"><stop offset="0" stop-color="#17db05"/><stop offset="1" stop-color="#49db04"/></linearGradient><linearGradient id="g348" href="#t" x1="1052" y1="653.6" x2="1015.4" y2="622.7"><stop offset="0" stop-color="#0cf473"/><stop offset="1" stop-color="#08e943"/></linearGradient><linearGradient id="g349" href="#t" x1="1006.9" y1="633.7" x2="966.8" y2="602.4"><stop offset="0" stop-color="#08e943"/><stop offset="1" stop-color="#06e111"/></linearGradient><linearGradient id="g350" href="#t" x1="890.5" y1="564.6" x2="848.9" y2="532.9"><stop offset="0" stop-color="#49db04"/><stop offset="1" stop-color="#7cde05"/></linearGradient><linearGradient id="g351" href="#t" x1="1154.1" y1="692.5" x2="1151.7" y2="670.6"><stop offset="0" stop-color="#33ffc0"/><stop offset="1" stop-color="#25ffaf"/></linearGradient><linearGradient id="g352" href="#t" x1="1194.8" y1="688.2" x2="1206.5" y2="662.2"><stop offset="0" stop-color="#4fffc4"/><stop offset="1" stop-color="#50ffb7"/></linearGradient><linearGradient id="g353" href="#t" x1="1111.6" y1="683.9" x2="1097" y2="656.4"><stop offset="0" stop-color="#21ffae"/><stop offset="1" stop-color="#13ff93"/></linearGradient><linearGradient id="g354" href="#t" x1="960.4" y1="611.1" x2="919" y2="579.1"><stop offset="0" stop-color="#06e111"/><stop offset="0.23" stop-color="#05e005"/><stop offset="1" stop-color="#2bdd05"/></linearGradient><linearGradient id="g355" href="#t" x1="841.5" y1="542.4" x2="803" y2="509.8"><stop offset="0" stop-color="#7cde05"/><stop offset="1" stop-color="#b0e607"/></linearGradient><linearGradient id="g356" href="#t" x1="1232" y1="678.9" x2="1267.3" y2="647.6"><stop offset="0" stop-color="#50ffb7"/><stop offset="1" stop-color="#5bff9f"/></linearGradient><linearGradient id="g357" href="#t" x1="1070.7" y1="674.1" x2="1043.7" y2="641.2"><stop offset="0" stop-color="#13ff93"/><stop offset="1" stop-color="#0bf465"/></linearGradient><linearGradient id="g358" href="#t" x1="912.9" y1="587.2" x2="871.7" y2="554.5"><stop offset="0" stop-color="#2bdd05"/><stop offset="1" stop-color="#5edd05"/></linearGradient><linearGradient id="g359" href="#t" x1="1027.1" y1="656.6" x2="993.1" y2="622.7"><stop offset="0" stop-color="#0bf465"/><stop offset="1" stop-color="#07e832"/></linearGradient><linearGradient id="g360" href="#t" x1="1175.2" y1="705.3" x2="1178.1" y2="681.3"><stop offset="0" stop-color="#49ffcf"/><stop offset="1" stop-color="#38ffbb"/></linearGradient><linearGradient id="g361" href="#t" x1="981.6" y1="635" x2="943.9" y2="600.6"><stop offset="0" stop-color="#07e832"/><stop offset="0.85" stop-color="#06e206"/><stop offset="1" stop-color="#0de105"/></linearGradient><linearGradient id="g362" href="#t" x1="1132.9" y1="702.5" x2="1126.8" y2="677.7"><stop offset="0" stop-color="#2cffc3"/><stop offset="1" stop-color="#1dffac"/></linearGradient><linearGradient id="g363" href="#t" x1="864.5" y1="563.6" x2="824.7" y2="530.5"><stop offset="0" stop-color="#5edd05"/><stop offset="1" stop-color="#91e206"/></linearGradient><linearGradient id="g364" href="#t" x1="1218" y1="696" x2="1234.1" y2="666.5"><stop offset="0" stop-color="#4fffc4"/><stop offset="1" stop-color="#64ffb8"/></linearGradient><linearGradient id="g365" href="#t" x1="1089.1" y1="691.9" x2="1073.1" y2="661.8"><stop offset="0" stop-color="#1dffac"/><stop offset="1" stop-color="#10ff89"/></linearGradient><linearGradient id="g366" href="#t" x1="934.8" y1="611.1" x2="895.4" y2="576.5"><stop offset="0" stop-color="#0de105"/><stop offset="1" stop-color="#40de05"/></linearGradient><linearGradient id="g367" href="#t" x1="1046.6" y1="678.7" x2="1020.6" y2="643.9"><stop offset="0" stop-color="#10ff89"/><stop offset="1" stop-color="#0af357"/></linearGradient><linearGradient id="g368" href="#t" x1="1002.2" y1="659.2" x2="969.8" y2="622.9"><stop offset="0" stop-color="#0af357"/><stop offset="1" stop-color="#07e821"/></linearGradient><linearGradient id="g369" href="#t" x1="886.9" y1="586.5" x2="847.5" y2="552"><stop offset="0" stop-color="#40de05"/><stop offset="1" stop-color="#73df05"/></linearGradient><linearGradient id="g370" href="#t" x1="1154.6" y1="720" x2="1153.2" y2="692.2"><stop offset="0" stop-color="#40ffd8"/><stop offset="1" stop-color="#33ffc0"/></linearGradient><linearGradient id="g371" href="#t" x1="1197.8" y1="716.5" x2="1204.6" y2="689.9"><stop offset="0" stop-color="#62ffdb"/><stop offset="1" stop-color="#67ffcb"/></linearGradient><linearGradient id="g372" href="#t" x1="1110.6" y1="712.2" x2="1101.8" y2="684.4"><stop offset="0" stop-color="#24ffc6"/><stop offset="1" stop-color="#18ffa8"/></linearGradient><linearGradient id="g373" href="#t" x1="956.2" y1="635.9" x2="920.2" y2="599.3"><stop offset="0" stop-color="#07e821"/><stop offset="0.5" stop-color="#06e506"/><stop offset="1" stop-color="#1fe205"/></linearGradient><linearGradient id="g374" href="#t" x1="1066.2" y1="699.4" x2="1048.8" y2="666.8"><stop offset="0" stop-color="#18ffa8"/><stop offset="1" stop-color="#0eff7f"/></linearGradient><linearGradient id="g375" href="#t" x1="1022.5" y1="683.1" x2="996.7" y2="646.4"><stop offset="0" stop-color="#0eff7f"/><stop offset="1" stop-color="#09f147"/></linearGradient><linearGradient id="g376" href="#t" x1="908.9" y1="610.9" x2="871.2" y2="574.5"><stop offset="0" stop-color="#1fe205"/><stop offset="1" stop-color="#53e005"/></linearGradient><linearGradient id="g377" href="#t" x1="1177" y1="736.2" x2="1179.5" y2="705.5"><stop offset="0" stop-color="#58ffe9"/><stop offset="1" stop-color="#49ffcf"/></linearGradient><linearGradient id="g378" href="#t" x1="1133" y1="733.6" x2="1128.2" y2="703.2"><stop offset="0" stop-color="#35ffe0"/><stop offset="1" stop-color="#2cffc3"/></linearGradient><linearGradient id="g379" href="#t" x1="977.2" y1="661.4" x2="945.8" y2="623.2"><stop offset="0" stop-color="#09f147"/><stop offset="1" stop-color="#06e80f"/></linearGradient><linearGradient id="g380" href="#t" x1="1087.7" y1="721.5" x2="1076.7" y2="691.2"><stop offset="0" stop-color="#1effc7"/><stop offset="1" stop-color="#14ffa3"/></linearGradient><linearGradient id="g381" href="#t" x1="1042.9" y1="706.4" x2="1024" y2="671.4"><stop offset="0" stop-color="#14ffa3"/><stop offset="1" stop-color="#0cfc72"/></linearGradient><linearGradient id="g382" href="#t" x1="930.6" y1="636.6" x2="895.9" y2="598.3"><stop offset="0" stop-color="#06e80f"/><stop offset="0.17" stop-color="#06e706"/><stop offset="1" stop-color="#32e205"/></linearGradient><linearGradient id="g383" href="#t" x1="998.2" y1="687.1" x2="972.2" y2="648.6"><stop offset="0" stop-color="#0cfc72"/><stop offset="1" stop-color="#08ef38"/></linearGradient><linearGradient id="g384" href="#t" x1="1155.7" y1="754.3" x2="1154.4" y2="719.9"><stop offset="0" stop-color="#49fff7"/><stop offset="1" stop-color="#40ffd8"/></linearGradient><linearGradient id="g385" href="#t" x1="1110.7" y1="746.4" x2="1103.2" y2="714.1"><stop offset="0" stop-color="#2affe8"/><stop offset="1" stop-color="#24ffc6"/></linearGradient><linearGradient id="g386" href="#t" x1="952.1" y1="663.3" x2="921.2" y2="623.5"><stop offset="0" stop-color="#08ef38"/><stop offset="0.85" stop-color="#06e806"/><stop offset="1" stop-color="#0ee706"/></linearGradient><linearGradient id="g387" href="#t" x1="1064.4" y1="730.3" x2="1051.4" y2="697.8"><stop offset="0" stop-color="#18ffc6"/><stop offset="1" stop-color="#11ff9d"/></linearGradient><linearGradient id="g388" href="#t" x1="1019.3" y1="712.9" x2="999" y2="675.5"><stop offset="0" stop-color="#11ff9d"/><stop offset="1" stop-color="#0af965"/></linearGradient><linearGradient id="g389" href="#t" x1="1133.8" y1="771.2" x2="1129.1" y2="734.1"><stop offset="0" stop-color="#3bf9ff"/><stop offset="0.18" stop-color="#3affff"/><stop offset="1" stop-color="#35ffe0"/></linearGradient><linearGradient id="g390" href="#t" x1="973.5" y1="690.8" x2="947.2" y2="650.5"><stop offset="0" stop-color="#0af965"/><stop offset="1" stop-color="#07ed28"/></linearGradient><linearGradient id="g391" href="#t" x1="1087.8" y1="758.5" x2="1078.1" y2="724.6"><stop offset="0" stop-color="#21ffee"/><stop offset="1" stop-color="#1effc7"/></linearGradient><linearGradient id="g392" href="#t" x1="1040.8" y1="739" x2="1025.9" y2="704.1"><stop offset="0" stop-color="#18ffc6"/><stop offset="1" stop-color="#0eff96"/></linearGradient><linearGradient id="g393" href="#t" x1="995.2" y1="719" x2="973.5" y2="679.3"><stop offset="0" stop-color="#0eff96"/><stop offset="1" stop-color="#09f657"/></linearGradient><linearGradient id="g394" href="#t" x1="1111.3" y1="787.2" x2="1103.6" y2="747.9"><stop offset="0" stop-color="#2deaff"/><stop offset="0.48" stop-color="#2cffff"/><stop offset="1" stop-color="#2affe8"/></linearGradient><linearGradient id="g395" href="#t" x1="1064.5" y1="770" x2="1052.6" y2="734.2"><stop offset="0" stop-color="#1afff4"/><stop offset="1" stop-color="#13ffc5"/></linearGradient><linearGradient id="g396" href="#t" x1="1017.1" y1="748" x2="1000.1" y2="709.9"><stop offset="0" stop-color="#13ffc5"/><stop offset="1" stop-color="#0bff8d"/></linearGradient><linearGradient id="g397" href="#t" x1="1088.3" y1="802.2" x2="1078.1" y2="761.1"><stop offset="0" stop-color="#22dcff"/><stop offset="0.68" stop-color="#22ffff"/><stop offset="1" stop-color="#21ffee"/></linearGradient><linearGradient id="g398" href="#t" x1="1040.6" y1="780.7" x2="1026.6" y2="742.4"><stop offset="0" stop-color="#14fff7"/><stop offset="1" stop-color="#0fffc2"/></linearGradient><linearGradient id="g399" href="#t" x1="1064.8" y1="816.3" x2="1052.3" y2="773.7"><stop offset="0" stop-color="#1ad0ff"/><stop offset="0.81" stop-color="#1affff"/><stop offset="1" stop-color="#1afff4"/></linearGradient></defs>
<g class="m">
<path d="M1058.2,410.4 1068.1,418.9 1078,427.8 1068.1,402.9 1058.2,376.8 1048.3,368.1 1038.3,359.9 1048.2,385.8z" fill="url(#g0)"/>
<path d="M1078.1,455.8 1088,464.5 1097.8,473.4 1087.8,451.3 1078,427.8 1068.1,418.9 1058.2,410.4 1068.2,433.7z" fill="url(#g1)"/>
<path d="M1098.2,496.3 1107.9,504.9 1117.6,513.8 1107.7,494.3 1097.8,473.4 1088,464.5 1078.1,455.8 1088.1,476.7z" fill="url(#g2)"/>
<path d="M1118.3,531.8 1128,540.3 1137.7,549 1127.6,532.1 1117.6,513.8 1107.9,504.9 1098.2,496.3 1108.2,514.7z" fill="url(#g3)"/>
<path d="M1138.6,562.6 1148.2,570.7 1157.8,579.1 1147.7,564.7 1137.7,549 1128,540.3 1118.3,531.8 1128.4,547.7z" fill="url(#g4)"/>
<path d="M1038.1,394.4 1048.2,402.2 1058.2,410.4 1048.2,385.8 1038.3,359.9 1028.2,352 1018.1,344.6 1028.1,370.1z" fill="url(#g5)"/>
<path d="M1058.2,439.5 1068.2,447.5 1078.1,455.8 1068.2,433.7 1058.2,410.4 1048.2,402.2 1038.1,394.4 1048.2,417.6z" fill="url(#g6)"/>
<path d="M1078.3,479.9 1088.3,488 1098.2,496.3 1088.1,476.7 1078.1,455.8 1068.2,447.5 1058.2,439.5 1068.3,460.3z" fill="url(#g7)"/>
<path d="M1159,588.7 1168.6,596.4 1178.2,604.3 1168,592.3 1157.8,579.1 1148.2,570.7 1138.6,562.6 1148.8,576.2z" fill="url(#g8)"/>
<path d="M1098.6,515.6 1108.5,523.6 1118.3,531.8 1108.2,514.7 1098.2,496.3 1088.3,488 1078.3,479.9 1088.4,498.3z" fill="url(#g9)"/>
<path d="M1179.7,610.1 1189.3,617.2 1198.8,624.4 1188.5,615 1178.2,604.3 1168.6,596.4 1159,588.7 1169.3,600z" fill="url(#g10)"/>
<path d="M1017.7,380 1028,387 1038.1,394.4 1028.1,370.1 1018.1,344.6 1007.9,337.6 997.6,330.9 1007.7,356z" fill="url(#g11)"/>
<path d="M1119,546.9 1128.8,554.6 1138.6,562.6 1128.4,547.7 1118.3,531.8 1108.5,523.6 1098.6,515.6 1108.8,531.8z" fill="url(#g12)"/>
<path d="M1037.9,424.6 1048.1,431.9 1058.2,439.5 1048.2,417.6 1038.1,394.4 1028,387 1017.7,380 1027.8,402.8z" fill="url(#g13)"/>
<path d="M1058.2,464.7 1068.3,472.1 1078.3,479.9 1068.3,460.3 1058.2,439.5 1048.1,431.9 1037.9,424.6 1048.1,445.2z" fill="url(#g14)"/>
<path d="M1139.5,573.9 1149.3,581.2 1159,588.7 1148.8,576.2 1138.6,562.6 1128.8,554.6 1119,546.9 1129.2,560.9z" fill="url(#g15)"/>
<path d="M1200.6,626.5 1210.2,632.8 1219.6,639.2 1209.2,632.5 1198.8,624.4 1189.3,617.2 1179.7,610.1 1190.1,618.9z" fill="url(#g16)"/>
<path d="M1078.6,500.5 1088.6,507.9 1098.6,515.6 1088.4,498.3 1078.3,479.9 1068.3,472.1 1058.2,464.7 1068.4,483.1z" fill="url(#g17)"/>
<path d="M1160.2,596.4 1170,603.1 1179.7,610.1 1169.3,600 1159,588.7 1149.3,581.2 1139.5,573.9 1149.8,585.7z" fill="url(#g18)"/>
<path d="M997,367.1 1007.4,373.3 1017.7,380 1007.7,356 997.6,330.9 987.2,324.8 976.8,319 986.9,343.6z" fill="url(#g19)"/>
<path d="M1099,532.1 1109,539.4 1119,546.9 1108.8,531.8 1098.6,515.6 1088.6,507.9 1078.6,500.5 1088.8,516.8z" fill="url(#g20)"/>
<path d="M1221.8,637.7 1231.3,643.1 1240.8,648.7 1230.2,644.6 1219.6,639.2 1210.2,632.8 1200.6,626.5 1211.1,632.7z" fill="url(#g21)"/>
<path d="M1017.4,411 1027.7,417.6 1037.9,424.6 1027.8,402.8 1017.7,380 1007.4,373.3 997,367.1 1007.2,389.5z" fill="url(#g22)"/>
<path d="M1037.7,450.7 1048,457.6 1058.2,464.7 1048.1,445.2 1037.9,424.6 1027.7,417.6 1017.4,411 1027.5,431.4z" fill="url(#g23)"/>
<path d="M1119.7,559.8 1129.6,566.7 1139.5,573.9 1129.2,560.9 1119,546.9 1109,539.4 1099,532.1 1109.3,546.4z" fill="url(#g24)"/>
<path d="M1181.2,614.2 1190.9,620.3 1200.6,626.5 1190.1,618.9 1179.7,610.1 1170,603.1 1160.2,596.4 1170.7,605.9z" fill="url(#g25)"/>
<path d="M1058.2,486.4 1068.4,493.3 1078.6,500.5 1068.4,483.1 1058.2,464.7 1048,457.6 1037.7,450.7 1048,469.1z" fill="url(#g26)"/>
<path d="M1243.3,643.6 1252.9,648 1262.4,652.5 1251.5,651.3 1240.8,648.7 1231.3,643.1 1221.8,637.7 1232.5,641.3z" fill="url(#g27)"/>
<path d="M976,355.7 986.6,361.2 997,367.1 986.9,343.6 976.8,319 966.2,313.7 955.7,308.8 965.8,332.8z" fill="url(#g28)"/>
<path d="M1140.5,583.2 1150.4,589.7 1160.2,596.4 1149.8,585.7 1139.5,573.9 1129.6,566.7 1119.7,559.8 1130,572z" fill="url(#g29)"/>
<path d="M1078.8,518.2 1088.9,525.1 1099,532.1 1088.8,516.8 1078.6,500.5 1068.4,493.3 1058.2,486.4 1068.5,502.8z" fill="url(#g30)"/>
<path d="M1202.4,627.1 1212.2,632.4 1221.8,637.7 1211.1,632.7 1200.6,626.5 1190.9,620.3 1181.2,614.2 1191.8,621.3z" fill="url(#g31)"/>
<path d="M996.5,398.8 1007,404.7 1017.4,411 1007.2,389.5 997,367.1 986.6,361.2 976,355.7 986.3,377.7z" fill="url(#g32)"/>
<path d="M1017,438 1027.4,444.2 1037.7,450.7 1027.5,431.4 1017.4,411 1007,404.7 996.5,398.8 1006.7,418.9z" fill="url(#g33)"/>
<path d="M1099.5,546.4 1109.6,553 1119.7,559.8 1109.3,546.4 1099,532.1 1088.9,525.1 1078.8,518.2 1089.1,532.8z" fill="url(#g34)"/>
<path d="M1161.5,602.4 1171.4,608.2 1181.2,614.2 1170.7,605.9 1160.2,596.4 1150.4,589.7 1140.5,583.2 1151,593.4z" fill="url(#g35)"/>
<path d="M1265.2,644.1 1274.8,647.3 1284.3,650.6 1273.3,652.2 1262.4,652.5 1252.9,648 1243.3,643.6 1254.2,644.5z" fill="url(#g36)"/>
<path d="M1037.5,473.4 1047.9,479.8 1058.2,486.4 1048,469.1 1037.7,450.7 1027.4,444.2 1017,438 1027.2,456.2z" fill="url(#g37)"/>
<path d="M1224,634.9 1233.7,639.2 1243.3,643.6 1232.5,641.3 1221.8,637.7 1212.2,632.4 1202.4,627.1 1213.2,631.7z" fill="url(#g38)"/>
<path d="M954.7,346 965.4,350.7 976,355.7 965.8,332.8 955.7,308.8 945,304.4 934.3,300.4 944.5,323.7z" fill="url(#g39)"/>
<path d="M1120.4,570.7 1130.5,576.9 1140.5,583.2 1130,572 1119.7,559.8 1109.6,553 1099.5,546.4 1109.9,559.1z" fill="url(#g40)"/>
<path d="M1058.2,505.4 1068.5,511.7 1078.8,518.2 1068.5,502.8 1058.2,486.4 1047.9,479.8 1037.5,473.4 1047.8,489.8z" fill="url(#g41)"/>
<path d="M975.3,388.1 985.9,393.2 996.5,398.8 986.3,377.7 976,355.7 965.4,350.7 954.7,346 965,367.5z" fill="url(#g42)"/>
<path d="M1182.8,616.8 1192.7,621.9 1202.4,627.1 1191.8,621.3 1181.2,614.2 1171.4,608.2 1161.5,602.4 1172.1,610.2z" fill="url(#g43)"/>
<path d="M995.9,426.6 1006.4,432.1 1017,438 1006.7,418.9 996.5,398.8 985.9,393.2 975.3,388.1 985.6,407.8z" fill="url(#g44)"/>
<path d="M1079,533.9 1089.3,540.1 1099.5,546.4 1089.1,532.8 1078.8,518.2 1068.5,511.7 1058.2,505.4 1068.6,520.1z" fill="url(#g45)"/>
<path d="M1141.5,591 1151.5,596.6 1161.5,602.4 1151,593.4 1140.5,583.2 1130.5,576.9 1120.4,570.7 1130.9,581.4z" fill="url(#g46)"/>
<path d="M1287.6,639.4 1297.2,641.3 1306.7,643.3 1295.4,647.7 1284.3,650.6 1274.8,647.3 1265.2,644.1 1276.4,642.4z" fill="url(#g47)"/>
<path d="M1245.9,637.7 1255.6,640.9 1265.2,644.1 1254.2,644.5 1243.3,643.6 1233.7,639.2 1224,634.9 1234.9,636.9z" fill="url(#g48)"/>
<path d="M1016.5,461.6 1027.1,467.4 1037.5,473.4 1027.2,456.2 1017,438 1006.4,432.1 995.9,426.6 1006.2,444.6z" fill="url(#g49)"/>
<path d="M933.1,338 944,341.8 954.7,346 944.5,323.7 934.3,300.4 923.4,296.9 912.6,293.9 922.9,316.3z" fill="url(#g50)"/>
<path d="M1204.4,626.5 1214.2,630.7 1224,634.9 1213.2,631.7 1202.4,627.1 1192.7,621.9 1182.8,616.8 1193.5,622.3z" fill="url(#g51)"/>
<path d="M1100,558.8 1110.2,564.7 1120.4,570.7 1109.9,559.1 1099.5,546.4 1089.3,540.1 1079,533.9 1089.5,546.8z" fill="url(#g52)"/>
<path d="M953.8,378.8 964.6,383.3 975.3,388.1 965,367.5 954.7,346 944,341.8 933.1,338 943.4,358.8z" fill="url(#g53)"/>
<path d="M1037.3,493.5 1047.8,499.3 1058.2,505.4 1047.8,489.8 1037.5,473.4 1027.1,467.4 1016.5,461.6 1026.9,477.9z" fill="url(#g54)"/>
<path d="M1162.8,606.9 1172.9,611.8 1182.8,616.8 1172.1,610.2 1161.5,602.4 1151.5,596.6 1141.5,591 1152.1,599.5z" fill="url(#g55)"/>
<path d="M974.4,416.5 985.2,421.4 995.9,426.6 985.6,407.8 975.3,388.1 964.6,383.3 953.8,378.8 964.1,398.1z" fill="url(#g56)"/>
<path d="M1268.2,635.5 1277.9,637.4 1287.6,639.4 1276.4,642.4 1265.2,644.1 1255.6,640.9 1245.9,637.7 1257,637.2z" fill="url(#g57)"/>
<path d="M1058.2,522.2 1068.6,527.9 1079,533.9 1068.6,520.1 1058.2,505.4 1047.8,499.3 1037.3,493.5 1047.7,508.2z" fill="url(#g58)"/>
<path d="M1121.2,580 1131.4,585.4 1141.5,591 1130.9,581.4 1120.4,570.7 1110.2,564.7 1100,558.8 1110.6,569.9z" fill="url(#g59)"/>
<path d="M1310.4,629.3 1320,629.7 1329.6,630.2 1318.1,637.4 1306.7,643.3 1297.2,641.3 1287.6,639.4 1298.9,635z" fill="url(#g60)"/>
<path d="M1226.3,631.4 1236.1,634.5 1245.9,637.7 1234.9,636.9 1224,634.9 1214.2,630.7 1204.4,626.5 1215.3,629.5z" fill="url(#g61)"/>
<path d="M995.2,451 1005.9,456.2 1016.5,461.6 1006.2,444.6 995.9,426.6 985.2,421.4 974.4,416.5 984.8,434.2z" fill="url(#g62)"/>
<path d="M911.3,331.6 922.2,334.6 933.1,338 922.9,316.3 912.6,293.9 901.6,291.3 890.6,289.2 900.9,310.8z" fill="url(#g63)"/>
<path d="M1184.5,618.2 1194.5,622.3 1204.4,626.5 1193.5,622.3 1182.8,616.8 1172.9,611.8 1162.8,606.9 1173.6,613.1z" fill="url(#g64)"/>
<path d="M932,371.1 942.9,374.8 953.8,378.8 943.4,358.8 933.1,338 922.2,334.6 911.3,331.6 921.6,351.7z" fill="url(#g65)"/>
<path d="M1079.3,547.6 1089.7,553.1 1100,558.8 1089.5,546.8 1079,533.9 1068.6,527.9 1058.2,522.2 1068.7,535.3z" fill="url(#g66)"/>
<path d="M1016.1,482.6 1026.7,487.9 1037.3,493.5 1026.9,477.9 1016.5,461.6 1005.9,456.2 995.2,451 1005.6,467.1z" fill="url(#g67)"/>
<path d="M1142.6,597.2 1152.7,602 1162.8,606.9 1152.1,599.5 1141.5,591 1131.4,585.4 1121.2,580 1131.8,589.1z" fill="url(#g68)"/>
<path d="M952.7,407.8 963.6,412 974.4,416.5 964.1,398.1 953.8,378.8 942.9,374.8 932,371.1 942.3,389.8z" fill="url(#g69)"/>
<path d="M1248.6,631.7 1258.4,633.6 1268.2,635.5 1257,637.2 1245.9,637.7 1236.1,634.5 1226.3,631.4 1237.4,632.1z" fill="url(#g70)"/>
<path d="M1291,628.4 1300.7,628.8 1310.4,629.3 1298.9,635 1287.6,639.4 1277.9,637.4 1268.2,635.5 1279.5,632.6z" fill="url(#g71)"/>
<path d="M1037.1,511.3 1047.7,516.6 1058.2,522.2 1047.7,508.2 1037.3,493.5 1026.7,487.9 1016.1,482.6 1026.5,497.3z" fill="url(#g72)"/>
<path d="M1100.5,569.5 1110.9,574.7 1121.2,580 1110.6,569.9 1100,558.8 1089.7,553.1 1079.3,547.6 1089.9,559z" fill="url(#g73)"/>
<path d="M1206.4,625.1 1216.4,628.2 1226.3,631.4 1215.3,629.5 1204.4,626.5 1194.5,622.3 1184.5,618.2 1195.4,622.2z" fill="url(#g74)"/>
<path d="M1333.7,613.8 1343.4,612.5 1353,611.3 1341.2,621.5 1329.6,630.2 1320,629.7 1310.4,629.3 1322,622.2z" fill="url(#g75)"/>
<path d="M889.1,327 900.2,329.1 911.3,331.6 900.9,310.8 890.6,289.2 879.5,287.6 868.4,286.5 878.7,307.1z" fill="url(#g76)"/>
<path d="M973.6,441.6 984.4,446.2 995.2,451 984.8,434.2 974.4,416.5 963.6,412 952.7,407.8 963.1,425.1z" fill="url(#g77)"/>
<path d="M1164.2,610.1 1174.4,614.1 1184.5,618.2 1173.6,613.1 1162.8,606.9 1152.7,602 1142.6,597.2 1153.4,604.2z" fill="url(#g78)"/>
<path d="M909.8,365 920.9,367.9 932,371.1 921.6,351.7 911.3,331.6 900.2,329.1 889.1,327 899.5,346.3z" fill="url(#g79)"/>
<path d="M1058.2,537 1068.8,542.2 1079.3,547.6 1068.7,535.3 1058.2,522.2 1047.7,516.6 1037.1,511.3 1047.6,524.5z" fill="url(#g80)"/>
<path d="M994.5,472.7 1005.3,477.5 1016.1,482.6 1005.6,467.1 995.2,451 984.4,446.2 973.6,441.6 984,457.5z" fill="url(#g81)"/>
<path d="M1122,587.8 1132.3,592.4 1142.6,597.2 1131.8,589.1 1121.2,580 1110.9,574.7 1100.5,569.5 1111.2,579.1z" fill="url(#g82)"/>
<path d="M930.7,400.5 941.7,404 952.7,407.8 942.3,389.8 932,371.1 920.9,367.9 909.8,365 920.3,383.1z" fill="url(#g83)"/>
<path d="M1271.3,627.3 1281.2,627.9 1291,628.4 1279.5,632.6 1268.2,635.5 1258.4,633.6 1248.6,631.7 1259.9,630.1z" fill="url(#g84)"/>
<path d="M1228.7,627.8 1238.7,629.7 1248.6,631.7 1237.4,632.1 1226.3,631.4 1216.4,628.2 1206.4,625.1 1217.5,627z" fill="url(#g85)"/>
<path d="M1314.2,616.1 1324,615 1333.7,613.8 1322,622.2 1310.4,629.3 1300.7,628.8 1291,628.4 1302.5,622.9z" fill="url(#g86)"/>
<path d="M866.6,324.2 877.9,325.4 889.1,327 878.7,307.1 868.4,286.5 857.2,285.8 845.9,285.7 856.3,305.2z" fill="url(#g87)"/>
<path d="M1015.6,501.3 1026.4,506.2 1037.1,511.3 1026.5,497.3 1016.1,482.6 1005.3,477.5 994.5,472.7 1005,487.4z" fill="url(#g88)"/>
<path d="M1186.2,618.9 1196.3,622 1206.4,625.1 1195.4,622.2 1184.5,618.2 1174.4,614.1 1164.2,610.1 1175.2,615z" fill="url(#g89)"/>
<path d="M1079.5,559.6 1090.1,564.5 1100.5,569.5 1089.9,559 1079.3,547.6 1068.8,542.2 1058.2,537 1068.8,548.7z" fill="url(#g90)"/>
<path d="M951.6,433.4 962.6,437.4 973.6,441.6 963.1,425.1 952.7,407.8 941.7,404 930.7,400.5 941.1,417.3z" fill="url(#g91)"/>
<path d="M1357.6,592.6 1367.4,589.5 1377.1,586.3 1365,599.6 1353,611.3 1343.4,612.5 1333.7,613.8 1345.6,603.9z" fill="url(#g92)"/>
<path d="M1143.7,602.2 1154,606.1 1164.2,610.1 1153.4,604.2 1142.6,597.2 1132.3,592.4 1122,587.8 1132.8,595.5z" fill="url(#g93)"/>
<path d="M887.4,360.5 898.7,362.6 909.8,365 899.5,346.3 889.1,327 877.9,325.4 866.6,324.2 877,342.7z" fill="url(#g94)"/>
<path d="M1036.8,527.2 1047.5,532 1058.2,537 1047.6,524.5 1037.1,511.3 1026.4,506.2 1015.6,501.3 1026.2,514.6z" fill="url(#g95)"/>
<path d="M972.6,464 983.6,468.2 994.5,472.7 984,457.5 973.6,441.6 962.6,437.4 951.6,433.4 962.1,449z" fill="url(#g96)"/>
<path d="M1101,578.8 1111.5,583.2 1122,587.8 1111.2,579.1 1100.5,569.5 1090.1,564.5 1079.5,559.6 1090.3,569.6z" fill="url(#g97)"/>
<path d="M908.3,394.6 919.5,397.4 930.7,400.5 920.3,383.1 909.8,365 898.7,362.6 887.4,360.5 897.9,377.9z" fill="url(#g98)"/>
<path d="M1251.3,626.2 1261.3,626.8 1271.3,627.3 1259.9,630.1 1248.6,631.7 1238.7,629.7 1228.7,627.8 1239.9,627.5z" fill="url(#g99)"/>
<path d="M1208.4,623.8 1218.6,625.8 1228.7,627.8 1217.5,627 1206.4,625.1 1196.3,622 1186.2,618.9 1197.3,621.9z" fill="url(#g100)"/>
<path d="M1294.4,618.3 1304.3,617.2 1314.2,616.1 1302.5,622.9 1291,628.4 1281.2,627.9 1271.3,627.3 1282.8,623.4z" fill="url(#g101)"/>
<path d="M843.9,323.2 855.3,323.5 866.6,324.2 856.3,305.2 845.9,285.7 834.5,286.1 823.1,286.9 833.5,305.3z" fill="url(#g102)"/>
<path d="M993.8,492.2 1004.7,496.7 1015.6,501.3 1005,487.4 994.5,472.7 983.6,468.2 972.6,464 983.2,478.4z" fill="url(#g103)"/>
<path d="M1165.6,612.8 1175.9,615.8 1186.2,618.9 1175.2,615 1164.2,610.1 1154,606.1 1143.7,602.2 1154.6,607.9z" fill="url(#g104)"/>
<path d="M1058.2,550.1 1068.9,554.8 1079.5,559.6 1068.8,548.7 1058.2,537 1047.5,532 1036.8,527.2 1047.5,539z" fill="url(#g105)"/>
<path d="M929.3,426.5 940.5,429.8 951.6,433.4 941.1,417.3 930.7,400.5 919.5,397.4 908.3,394.6 918.8,410.9z" fill="url(#g106)"/>
<path d="M1338,598.6 1347.8,595.7 1357.6,592.6 1345.6,603.9 1333.7,613.8 1324,615 1314.2,616.1 1326,608.1z" fill="url(#g107)"/>
<path d="M864.8,357.7 876.1,358.9 887.4,360.5 877,342.7 866.6,324.2 855.3,323.5 843.9,323.2 854.3,340.7z" fill="url(#g108)"/>
<path d="M1122.8,594.4 1133.3,598.3 1143.7,602.2 1132.8,595.5 1122,587.8 1111.5,583.2 1101,578.8 1111.9,587.1z" fill="url(#g109)"/>
<path d="M1382.2,565.6 1392,560.4 1401.8,555.1 1389.3,571.5 1377.1,586.3 1367.4,589.5 1357.6,592.6 1369.8,579.8z" fill="url(#g110)"/>
<path d="M1015.1,518.1 1026,522.5 1036.8,527.2 1026.2,514.6 1015.6,501.3 1004.7,496.7 993.8,492.2 1004.4,505.5z" fill="url(#g111)"/>
<path d="M950.4,456.4 961.6,460 972.6,464 962.1,449 951.6,433.4 940.5,429.8 929.3,426.5 939.9,441.7z" fill="url(#g112)"/>
<path d="M885.7,390.2 897.1,392.3 908.3,394.6 897.9,377.9 887.4,360.5 876.1,358.9 864.8,357.7 875.2,374.2z" fill="url(#g113)"/>
<path d="M1079.8,570.2 1090.5,574.4 1101,578.8 1090.3,569.6 1079.5,559.6 1068.9,554.8 1058.2,550.1 1069,560.5z" fill="url(#g114)"/>
<path d="M1231.1,624.8 1241.2,625.5 1251.3,626.2 1239.9,627.5 1228.7,627.8 1218.6,625.8 1208.4,623.8 1219.7,624.8z" fill="url(#g115)"/>
<path d="M820.9,324.1 832.5,323.4 843.9,323.2 833.5,305.3 823.1,286.9 811.7,288.3 800.2,290.2 810.5,307.4z" fill="url(#g116)"/>
<path d="M1274.4,620.2 1284.4,619.3 1294.4,618.3 1282.8,623.4 1271.3,627.3 1261.3,626.8 1251.3,626.2 1262.8,623.7z" fill="url(#g117)"/>
<path d="M1187.9,619.8 1198.2,621.8 1208.4,623.8 1197.3,621.9 1186.2,618.9 1175.9,615.8 1165.6,612.8 1176.7,616.7z" fill="url(#g118)"/>
<path d="M1318.1,604.4 1328,601.6 1338,598.6 1326,608.1 1314.2,616.1 1304.3,617.2 1294.4,618.3 1306.2,612z" fill="url(#g119)"/>
<path d="M1144.8,606.7 1155.3,609.7 1165.6,612.8 1154.6,607.9 1143.7,602.2 1133.3,598.3 1122.8,594.4 1133.8,601z" fill="url(#g120)"/>
<path d="M971.6,484.2 982.8,488.1 993.8,492.2 983.2,478.4 972.6,464 961.6,460 950.4,456.4 961,470.5z" fill="url(#g121)"/>
<path d="M906.7,421 918.1,423.6 929.3,426.5 918.8,410.9 908.3,394.6 897.1,392.3 885.7,390.2 896.2,405.8z" fill="url(#g122)"/>
<path d="M1036.5,541.4 1047.4,545.7 1058.2,550.1 1047.5,539 1036.8,527.2 1026,522.5 1015.1,518.1 1025.8,530.1z" fill="url(#g123)"/>
<path d="M841.8,356.5 853.3,356.9 864.8,357.7 854.3,340.7 843.9,323.2 832.5,323.4 820.9,324.1 831.4,340.5z" fill="url(#g124)"/>
<path d="M1101.6,587 1112.2,590.7 1122.8,594.4 1111.9,587.1 1101,578.8 1090.5,574.4 1079.8,570.2 1090.7,579z" fill="url(#g125)"/>
<path d="M1362.3,575.7 1372.3,570.7 1382.2,565.6 1369.8,579.8 1357.6,592.6 1347.8,595.7 1338,598.6 1350.1,587.9z" fill="url(#g126)"/>
<path d="M927.9,449.9 939.2,453 950.4,456.4 939.9,441.7 929.3,426.5 918.1,423.6 906.7,421 917.3,435.6z" fill="url(#g127)"/>
<path d="M993,509.8 1004.1,513.8 1015.1,518.1 1004.4,505.5 993.8,492.2 982.8,488.1 971.6,484.2 982.3,497.3z" fill="url(#g128)"/>
<path d="M862.8,387.4 874.3,388.6 885.7,390.2 875.2,374.2 864.8,357.7 853.3,356.9 841.8,356.5 852.3,372.1z" fill="url(#g129)"/>
<path d="M797.7,326.9 809.4,325.3 820.9,324.1 810.5,307.4 800.2,290.2 788.6,292.6 777,295.6 787.3,311.4z" fill="url(#g130)"/>
<path d="M1210.5,623.3 1220.8,624.1 1231.1,624.8 1219.7,624.8 1208.4,623.8 1198.2,621.8 1187.9,619.8 1199.2,622z" fill="url(#g131)"/>
<path d="M1254.1,621.8 1264.3,621 1274.4,620.2 1262.8,623.7 1251.3,626.2 1241.2,625.5 1231.1,624.8 1242.5,623.8z" fill="url(#g132)"/>
<path d="M1058.2,562 1069,566 1079.8,570.2 1069,560.5 1058.2,550.1 1047.4,545.7 1036.5,541.4 1047.3,552.1z" fill="url(#g133)"/>
<path d="M1167.1,615.8 1177.5,617.8 1187.9,619.8 1176.7,616.7 1165.6,612.8 1155.3,609.7 1144.8,606.7 1155.9,611.6z" fill="url(#g134)"/>
<path d="M1297.9,609.8 1308,607.2 1318.1,604.4 1306.2,612 1294.4,618.3 1284.4,619.3 1274.4,620.2 1286.1,615.6z" fill="url(#g135)"/>
<path d="M1407.4,531.9 1417.4,524.4 1427.3,516.9 1414.4,536.9 1401.8,555.1 1392,560.4 1382.2,565.6 1394.7,549.7z" fill="url(#g136)"/>
<path d="M818.6,357 830.2,356.6 841.8,356.5 831.4,340.5 820.9,324.1 809.4,325.3 797.7,326.9 808.1,342.1z" fill="url(#g137)"/>
<path d="M883.8,416.7 895.3,418.7 906.7,421 896.2,405.8 885.7,390.2 874.3,388.6 862.8,387.4 873.3,402.2z" fill="url(#g138)"/>
<path d="M1123.6,600.8 1134.3,603.7 1144.8,606.7 1133.8,601 1122.8,594.4 1112.2,590.7 1101.6,587 1112.6,594.3z" fill="url(#g139)"/>
<path d="M949.2,477.1 960.5,480.5 971.6,484.2 961,470.5 950.4,456.4 939.2,453 927.9,449.9 938.5,463.7z" fill="url(#g140)"/>
<path d="M1014.6,533.3 1025.6,537.3 1036.5,541.4 1025.8,530.1 1015.1,518.1 1004.1,513.8 993,509.8 1003.8,521.9z" fill="url(#g141)"/>
<path d="M1342.3,585.5 1352.3,580.7 1362.3,575.7 1350.1,587.9 1338,598.6 1328,601.6 1318.1,604.4 1330.1,595.6z" fill="url(#g142)"/>
<path d="M1080.1,580 1090.9,583.4 1101.6,587 1090.7,579 1079.8,570.2 1069,566 1058.2,562 1069.1,571.4z" fill="url(#g143)"/>
<path d="M774.2,331.6 786,329 797.7,326.9 787.3,311.4 777,295.6 765.3,299.1 753.5,303.1 763.9,317.4z" fill="url(#g144)"/>
<path d="M839.5,386 851.2,386.5 862.8,387.4 852.3,372.1 841.8,356.5 830.2,356.6 818.6,357 829,371.7z" fill="url(#g145)"/>
<path d="M905,444.6 916.5,447.1 927.9,449.9 917.3,435.6 906.7,421 895.3,418.7 883.8,416.7 894.4,430.8z" fill="url(#g146)"/>
<path d="M970.6,502.5 981.9,506 993,509.8 982.3,497.3 971.6,484.2 960.5,480.5 949.2,477.1 959.9,490z" fill="url(#g147)"/>
<path d="M1233.5,623.1 1243.8,622.5 1254.1,621.8 1242.5,623.8 1231.1,624.8 1220.8,624.1 1210.5,623.3 1222,623.6z" fill="url(#g148)"/>
<path d="M1189.7,621.6 1200.2,622.4 1210.5,623.3 1199.2,622 1187.9,619.8 1177.5,617.8 1167.1,615.8 1178.4,619.1z" fill="url(#g149)"/>
<path d="M1387.3,546.5 1397.4,539.3 1407.4,531.9 1394.7,549.7 1382.2,565.6 1372.3,570.7 1362.3,575.7 1374.7,562z" fill="url(#g150)"/>
<path d="M1277.5,614.8 1287.8,612.3 1297.9,609.8 1286.1,615.6 1274.4,620.2 1264.3,621 1254.1,621.8 1265.8,618.8z" fill="url(#g151)"/>
<path d="M1036.3,554.5 1047.3,558.2 1058.2,562 1047.3,552.1 1036.5,541.4 1025.6,537.3 1014.6,533.3 1025.4,544.2z" fill="url(#g152)"/>
<path d="M1146,611.7 1156.6,613.7 1167.1,615.8 1155.9,611.6 1144.8,606.7 1134.3,603.7 1123.6,600.8 1134.8,606.6z" fill="url(#g153)"/>
<path d="M795.1,359.3 806.8,358 818.6,357 808.1,342.1 797.7,326.9 786,329 774.2,331.6 784.6,345.6z" fill="url(#g154)"/>
<path d="M1322,594.8 1332.1,590.2 1342.3,585.5 1330.1,595.6 1318.1,604.4 1308,607.2 1297.9,609.8 1309.9,602.9z" fill="url(#g155)"/>
<path d="M860.6,413.8 872.3,415.1 883.8,416.7 873.3,402.2 862.8,387.4 851.2,386.5 839.5,386 850.1,400.1z" fill="url(#g156)"/>
<path d="M926.4,471 937.8,473.9 949.2,477.1 938.5,463.7 927.9,449.9 916.5,447.1 905,444.6 915.7,458z" fill="url(#g157)"/>
<path d="M1102.2,595.2 1112.9,598 1123.6,600.8 1112.6,594.3 1101.6,587 1090.9,583.4 1080.1,580 1091.1,587.9z" fill="url(#g158)"/>
<path d="M992.2,526 1003.4,529.5 1014.6,533.3 1003.8,521.9 993,509.8 981.9,506 970.6,502.5 981.4,514.5z" fill="url(#g159)"/>
<path d="M750.5,338.3 762.4,334.7 774.2,331.6 763.9,317.4 753.5,303.1 741.7,307.6 729.9,312.7 740.2,325.5z" fill="url(#g160)"/>
<path d="M1058.2,573.3 1069.2,576.6 1080.1,580 1069.1,571.4 1058.2,562 1047.3,558.2 1036.3,554.5 1047.2,564.2z" fill="url(#g161)"/>
<path d="M1433.5,491.2 1443.6,481.3 1453.6,471.3 1440.4,495 1427.3,516.9 1417.4,524.4 1407.4,531.9 1420.3,512.4z" fill="url(#g162)"/>
<path d="M816,386.3 827.8,385.9 839.5,386 829,371.7 818.6,357 806.8,358 795.1,359.3 805.5,372.9z" fill="url(#g163)"/>
<path d="M1367.1,560.7 1377.2,553.7 1387.3,546.5 1374.7,562 1362.3,575.7 1352.3,580.7 1342.3,585.5 1354.6,573.9z" fill="url(#g164)"/>
<path d="M881.9,440.5 893.5,442.4 905,444.6 894.4,430.8 883.8,416.7 872.3,415.1 860.6,413.8 871.2,427.3z" fill="url(#g165)"/>
<path d="M1212.7,624.1 1223.1,623.7 1233.5,623.1 1222,623.6 1210.5,623.3 1200.2,622.4 1189.7,621.6 1201.1,623.3z" fill="url(#g166)"/>
<path d="M1256.9,619.3 1267.3,617.1 1277.5,614.8 1265.8,618.8 1254.1,621.8 1243.8,622.5 1233.5,623.1 1245.2,621.7z" fill="url(#g167)"/>
<path d="M947.9,496 959.3,499.1 970.6,502.5 959.9,490 949.2,477.1 937.8,473.9 926.4,471 937.1,483.7z" fill="url(#g168)"/>
<path d="M1168.6,619.8 1179.2,620.7 1189.7,621.6 1178.4,619.1 1167.1,615.8 1156.6,613.7 1146,611.7 1157.2,616.1z" fill="url(#g169)"/>
<path d="M771.3,363.4 783.2,361.2 795.1,359.3 784.6,345.6 774.2,331.6 762.4,334.7 750.5,338.3 760.9,350.9z" fill="url(#g170)"/>
<path d="M1014,547.6 1025.2,551 1036.3,554.5 1025.4,544.2 1014.6,533.3 1003.4,529.5 992.2,526 1003.1,537z" fill="url(#g171)"/>
<path d="M1124.5,607.9 1135.3,609.8 1146,611.7 1134.8,606.6 1123.6,600.8 1112.9,598 1102.2,595.2 1113.3,601.8z" fill="url(#g172)"/>
<path d="M1301.5,603.5 1311.8,599.2 1322,594.8 1309.9,602.9 1297.9,609.8 1287.8,612.3 1277.5,614.8 1289.4,609.7z" fill="url(#g173)"/>
<path d="M837.1,412.4 848.9,412.9 860.6,413.8 850.1,400.1 839.5,386 827.8,385.9 816,386.3 826.6,399.4z" fill="url(#g174)"/>
<path d="M726.6,347 738.6,342.4 750.5,338.3 740.2,325.5 729.9,312.7 718,318.3 706.1,324.5 716.3,335.7z" fill="url(#g175)"/>
<path d="M903.3,466.1 914.9,468.4 926.4,471 915.7,458 905,444.6 893.5,442.4 881.9,440.5 892.6,453.4z" fill="url(#g176)"/>
<path d="M1080.3,589.8 1091.3,592.5 1102.2,595.2 1091.1,587.9 1080.1,580 1069.2,576.6 1058.2,573.3 1069.2,581.9z" fill="url(#g177)"/>
<path d="M1413.1,510.6 1423.3,501 1433.5,491.2 1420.3,512.4 1407.4,531.9 1397.4,539.3 1387.3,546.5 1400.1,529.4z" fill="url(#g178)"/>
<path d="M969.6,519.4 980.9,522.6 992.2,526 981.4,514.5 970.6,502.5 959.3,499.1 947.9,496 958.7,507.9z" fill="url(#g179)"/>
<path d="M1346.6,574.2 1356.9,567.5 1367.1,560.7 1354.6,573.9 1342.3,585.5 1332.1,590.2 1322,594.8 1334.2,585.3z" fill="url(#g180)"/>
<path d="M792.2,388.1 804.2,387 816,386.3 805.5,372.9 795.1,359.3 783.2,361.2 771.3,363.4 781.7,375.8z" fill="url(#g181)"/>
<path d="M1036,567.2 1047.1,570.2 1058.2,573.3 1047.2,564.2 1036.3,554.5 1025.2,551 1014,547.6 1025,557.6z" fill="url(#g182)"/>
<path d="M858.4,437.7 870.2,438.9 881.9,440.5 871.2,427.3 860.6,413.8 848.9,412.9 837.1,412.4 847.7,425.1z" fill="url(#g183)"/>
<path d="M1191.5,624.9 1202.1,624.5 1212.7,624.1 1201.1,623.3 1189.7,621.6 1179.2,620.7 1168.6,619.8 1180,622.7z" fill="url(#g184)"/>
<path d="M1236,623.4 1246.5,621.4 1256.9,619.3 1245.2,621.7 1233.5,623.1 1223.1,623.7 1212.7,624.1 1224.3,624.2z" fill="url(#g185)"/>
<path d="M747.3,369.3 759.3,366.2 771.3,363.4 760.9,350.9 750.5,338.3 738.6,342.4 726.6,347 736.9,358.2z" fill="url(#g186)"/>
<path d="M1147.2,618 1157.9,618.9 1168.6,619.8 1157.2,616.1 1146,611.7 1135.3,609.8 1124.5,607.9 1135.8,613.2z" fill="url(#g187)"/>
<path d="M924.8,490.4 936.4,493.1 947.9,496 937.1,483.7 926.4,471 914.9,468.4 903.3,466.1 914,478.4z" fill="url(#g188)"/>
<path d="M1280.7,611.7 1291.1,607.7 1301.5,603.5 1289.4,609.7 1277.5,614.8 1267.3,617.1 1256.9,619.3 1268.8,616z" fill="url(#g189)"/>
<path d="M702.4,357.7 714.5,352.1 726.6,347 716.3,335.7 706.1,324.5 694.1,331.2 682,338.5 692.2,348.1z" fill="url(#g190)"/>
<path d="M1392.6,529.5 1402.9,520.2 1413.1,510.6 1400.1,529.4 1387.3,546.5 1377.2,553.7 1367.1,560.7 1379.7,545.9z" fill="url(#g191)"/>
<path d="M991.4,541.3 1002.8,544.4 1014,547.6 1003.1,537 992.2,526 980.9,522.6 969.6,519.4 980.5,530.6z" fill="url(#g192)"/>
<path d="M1102.7,604.1 1113.7,606 1124.5,607.9 1113.3,601.8 1102.2,595.2 1091.3,592.5 1080.3,589.8 1091.5,597.3z" fill="url(#g193)"/>
<path d="M813.3,412.3 825.3,412.2 837.1,412.4 826.6,399.4 816,386.3 804.2,387 792.2,388.1 802.8,400.3z" fill="url(#g194)"/>
<path d="M1460.3,443.9 1470.6,431.3 1480.9,418.6 1467.1,445.8 1453.6,471.3 1443.6,481.3 1433.5,491.2 1446.8,468.3z" fill="url(#g195)"/>
<path d="M1325.9,587.2 1336.3,580.8 1346.6,574.2 1334.2,585.3 1322,594.8 1311.8,599.2 1301.5,603.5 1313.6,596.1z" fill="url(#g196)"/>
<path d="M879.8,462.2 891.6,464 903.3,466.1 892.6,453.4 881.9,440.5 870.2,438.9 858.4,437.7 869.1,450z" fill="url(#g197)"/>
<path d="M1058.2,584.8 1069.3,587.3 1080.3,589.8 1069.2,581.9 1058.2,573.3 1047.1,570.2 1036,567.2 1047.1,576.2z" fill="url(#g198)"/>
<path d="M768.2,391.6 780.2,389.6 792.2,388.1 781.7,375.8 771.3,363.4 759.3,366.2 747.3,369.3 757.7,380.5z" fill="url(#g199)"/>
<path d="M946.5,513.7 958.1,516.4 969.6,519.4 958.7,507.9 947.9,496 936.4,493.1 924.8,490.4 935.7,502.2z" fill="url(#g200)"/>
<path d="M723,377.1 735.2,373 747.3,369.3 736.9,358.2 726.6,347 714.5,352.1 702.4,357.7 712.7,367.4z" fill="url(#g201)"/>
<path d="M1214.8,627.1 1225.4,625.3 1236,623.4 1224.3,624.2 1212.7,624.1 1202.1,624.5 1191.5,624.9 1203.1,626.4z" fill="url(#g202)"/>
<path d="M834.6,436.1 846.5,436.7 858.4,437.7 847.7,425.1 837.1,412.4 825.3,412.2 813.3,412.3 823.9,424.2z" fill="url(#g203)"/>
<path d="M1170.1,625.6 1180.8,625.3 1191.5,624.9 1180,622.7 1168.6,619.8 1157.9,618.9 1147.2,618 1158.6,622.1z" fill="url(#g204)"/>
<path d="M1013.5,561.6 1024.8,564.3 1036,567.2 1025,557.6 1014,547.6 1002.8,544.4 991.4,541.3 1002.4,551.6z" fill="url(#g205)"/>
<path d="M678.1,370.5 690.3,363.8 702.4,357.7 692.2,348.1 682,338.5 670,346.4 657.8,354.8 667.9,362.5z" fill="url(#g206)"/>
<path d="M1371.9,547.8 1382.3,538.8 1392.6,529.5 1379.7,545.9 1367.1,560.7 1356.9,567.5 1346.6,574.2 1359.2,561.7z" fill="url(#g207)"/>
<path d="M1259.7,619.2 1270.3,615.5 1280.7,611.7 1268.8,616 1256.9,619.3 1246.5,621.4 1236,623.4 1247.8,621.7z" fill="url(#g208)"/>
<path d="M1125.4,616.2 1136.3,617.1 1147.2,618 1135.8,613.2 1124.5,607.9 1113.7,606 1102.7,604.1 1114,610.5z" fill="url(#g209)"/>
<path d="M1439.7,468.6 1450,456.3 1460.3,443.9 1446.8,468.3 1433.5,491.2 1423.3,501 1413.1,510.6 1426.3,490.4z" fill="url(#g210)"/>
<path d="M901.4,485.8 913.2,488 924.8,490.4 914,478.4 903.3,466.1 891.6,464 879.8,462.2 890.6,474.1z" fill="url(#g211)"/>
<path d="M789.2,413.7 801.3,412.8 813.3,412.3 802.8,400.3 792.2,388.1 780.2,389.6 768.2,391.6 778.7,402.7z" fill="url(#g212)"/>
<path d="M1305.1,599.4 1315.5,593.4 1325.9,587.2 1313.6,596.1 1301.5,603.5 1291.1,607.7 1280.7,611.7 1292.8,606.2z" fill="url(#g213)"/>
<path d="M1080.6,600.6 1091.7,602.4 1102.7,604.1 1091.5,597.3 1080.3,589.8 1069.3,587.3 1058.2,584.8 1069.4,593z" fill="url(#g214)"/>
<path d="M968.5,535.7 980,538.4 991.4,541.3 980.5,530.6 969.6,519.4 958.1,516.4 946.5,513.7 957.5,524.8z" fill="url(#g215)"/>
<path d="M743.9,396.7 756,394 768.2,391.6 757.7,380.5 747.3,369.3 735.2,373 723,377.1 733.4,386.9z" fill="url(#g216)"/>
<path d="M856,459.4 868,460.6 879.8,462.2 869.1,450 858.4,437.7 846.5,436.7 834.6,436.1 845.3,447.8z" fill="url(#g217)"/>
<path d="M1035.7,580.2 1047,582.5 1058.2,584.8 1047.1,576.2 1036,567.2 1024.8,564.3 1013.5,561.6 1024.6,571.1z" fill="url(#g218)"/>
<path d="M698.6,386.7 710.8,381.7 723,377.1 712.7,367.4 702.4,357.7 690.3,363.8 678.1,370.5 688.3,378.5z" fill="url(#g219)"/>
<path d="M653.6,385.3 665.8,377.6 678.1,370.5 667.9,362.5 657.8,354.8 645.7,363.7 633.5,373.3 643.5,379.2z" fill="url(#g220)"/>
<path d="M923.2,508.7 934.9,511.1 946.5,513.7 935.7,502.2 924.8,490.4 913.2,488 901.4,485.8 912.3,497.4z" fill="url(#g221)"/>
<path d="M1351,565.4 1361.5,556.7 1371.9,547.8 1359.2,561.7 1346.6,574.2 1336.3,580.8 1325.9,587.2 1338.4,576.9z" fill="url(#g222)"/>
<path d="M1418.8,492.8 1429.3,480.8 1439.7,468.6 1426.3,490.4 1413.1,510.6 1402.9,520.2 1392.6,529.5 1405.6,511.8z" fill="url(#g223)"/>
<path d="M1193.4,630.5 1204.1,628.9 1214.8,627.1 1203.1,626.4 1191.5,624.9 1180.8,625.3 1170.1,625.6 1181.7,628.4z" fill="url(#g224)"/>
<path d="M810.5,435.8 822.6,435.7 834.6,436.1 823.9,424.2 813.3,412.3 801.3,412.8 789.2,413.7 799.8,424.8z" fill="url(#g225)"/>
<path d="M1238.5,626.3 1249.2,622.8 1259.7,619.2 1247.8,621.7 1236,623.4 1225.4,625.3 1214.8,627.1 1226.6,627.1z" fill="url(#g226)"/>
<path d="M1148.4,626.1 1159.3,625.8 1170.1,625.6 1158.6,622.1 1147.2,618 1136.3,617.1 1125.4,616.2 1136.8,621.4z" fill="url(#g227)"/>
<path d="M990.6,556.5 1002,558.9 1013.5,561.6 1002.4,551.6 991.4,541.3 980,538.4 968.5,535.7 979.5,546.2z" fill="url(#g228)"/>
<path d="M1103.3,614.6 1114.4,615.4 1125.4,616.2 1114,610.5 1102.7,604.1 1091.7,602.4 1080.6,600.6 1092,607.8z" fill="url(#g229)"/>
<path d="M1284,610.9 1294.5,605.2 1305.1,599.4 1292.8,606.2 1280.7,611.7 1270.3,615.5 1259.7,619.2 1271.8,615.7z" fill="url(#g230)"/>
<path d="M877.7,482.2 889.6,483.9 901.4,485.8 890.6,474.1 879.8,462.2 868,460.6 856,459.4 866.8,470.8z" fill="url(#g231)"/>
<path d="M764.9,416.6 777.1,415 789.2,413.7 778.7,402.7 768.2,391.6 756,394 743.9,396.7 754.3,406.7z" fill="url(#g232)"/>
<path d="M1488.1,390.3 1498.6,374.6 1509.1,358.9 1494.8,389.6 1480.9,418.6 1470.6,431.3 1460.3,443.9 1474.1,417.9z" fill="url(#g233)"/>
<path d="M1058.2,597.4 1069.5,599 1080.6,600.6 1069.4,593 1058.2,584.8 1047,582.5 1035.7,580.2 1046.9,589z" fill="url(#g234)"/>
<path d="M719.3,403.6 731.6,400 743.9,396.7 733.4,386.9 723,377.1 710.8,381.7 698.6,386.7 708.9,395.1z" fill="url(#g235)"/>
<path d="M945.2,530.7 956.8,533.1 968.5,535.7 957.5,524.8 946.5,513.7 934.9,511.1 923.2,508.7 934.1,519.8z" fill="url(#g236)"/>
<path d="M628.8,402.3 641.2,393.5 653.6,385.3 643.5,379.2 633.5,373.3 621.3,383.4 609,394.1 618.9,398z" fill="url(#g237)"/>
<path d="M1397.9,516.2 1408.4,504.6 1418.8,492.8 1405.6,511.8 1392.6,529.5 1382.3,538.8 1371.9,547.8 1384.8,532.6z" fill="url(#g238)"/>
<path d="M673.9,398.3 686.2,392.3 698.6,386.7 688.3,378.5 678.1,370.5 665.8,377.6 653.6,385.3 663.7,391.7z" fill="url(#g239)"/>
<path d="M832,457.7 844,458.4 856,459.4 845.3,447.8 834.6,436.1 822.6,435.7 810.5,435.8 821.2,446.7z" fill="url(#g240)"/>
<path d="M1330,582.2 1340.5,573.9 1351,565.4 1338.4,576.9 1325.9,587.2 1315.5,593.4 1305.1,599.4 1317.4,591.4z" fill="url(#g241)"/>
<path d="M1012.9,576 1024.3,578.1 1035.7,580.2 1024.6,571.1 1013.5,561.6 1002,558.9 990.6,556.5 1001.7,566.4z" fill="url(#g242)"/>
<path d="M1467,421 1477.6,405.7 1488.1,390.3 1474.1,417.9 1460.3,443.9 1450,456.3 1439.7,468.6 1453.2,445.5z" fill="url(#g243)"/>
<path d="M899.5,504.5 911.4,506.5 923.2,508.7 912.3,497.4 901.4,485.8 889.6,483.9 877.7,482.2 888.6,493.4z" fill="url(#g244)"/>
<path d="M1171.6,633.7 1182.5,632.2 1193.4,630.5 1181.7,628.4 1170.1,625.6 1159.3,625.8 1148.4,626.1 1159.9,630.2z" fill="url(#g245)"/>
<path d="M1217,632.9 1227.8,629.6 1238.5,626.3 1226.6,627.1 1214.8,627.1 1204.1,628.9 1193.4,630.5 1205.1,632z" fill="url(#g246)"/>
<path d="M786.1,436.8 798.3,436.1 810.5,435.8 799.8,424.8 789.2,413.7 777.1,415 764.9,416.6 775.5,426.7z" fill="url(#g247)"/>
<path d="M1126.3,626.6 1137.4,626.4 1148.4,626.1 1136.8,621.4 1125.4,616.2 1114.4,615.4 1103.3,614.6 1114.8,620.8z" fill="url(#g248)"/>
<path d="M1262.6,621.8 1273.3,616.4 1284,610.9 1271.8,615.7 1259.7,619.2 1249.2,622.8 1238.5,626.3 1250.5,624.5z" fill="url(#g249)"/>
<path d="M967.3,551.9 979,554.1 990.6,556.5 979.5,546.2 968.5,535.7 956.8,533.1 945.2,530.7 956.2,541.4z" fill="url(#g250)"/>
<path d="M740.2,421.1 752.6,418.7 764.9,416.6 754.3,406.7 743.9,396.7 731.6,400 719.3,403.6 729.7,412.3z" fill="url(#g251)"/>
<path d="M1080.9,613 1092.2,613.8 1103.3,614.6 1092,607.8 1080.6,600.6 1069.5,599 1058.2,597.4 1069.5,605.4z" fill="url(#g252)"/>
<path d="M1376.7,538.8 1387.3,527.6 1397.9,516.2 1384.8,532.6 1371.9,547.8 1361.5,556.7 1351,565.4 1363.8,552.7z" fill="url(#g253)"/>
<path d="M853.6,479.5 865.7,480.7 877.7,482.2 866.8,470.8 856,459.4 844,458.4 832,457.7 842.7,468.6z" fill="url(#g254)"/>
<path d="M694.4,412.2 706.9,407.7 719.3,403.6 708.9,395.1 698.6,386.7 686.2,392.3 673.9,398.3 684.1,405.1z" fill="url(#g255)"/>
<path d="M649,411.8 661.4,404.8 673.9,398.3 663.7,391.7 653.6,385.3 641.2,393.5 628.8,402.3 638.9,406.9z" fill="url(#g256)"/>
<path d="M1308.7,598.2 1319.3,590.3 1330,582.2 1317.4,591.4 1305.1,599.4 1294.5,605.2 1284,610.9 1296.3,605.1z" fill="url(#g257)"/>
<path d="M1445.9,450.9 1456.5,436 1467,421 1453.2,445.5 1439.7,468.6 1429.3,480.8 1418.8,492.8 1432.3,472.5z" fill="url(#g258)"/>
<path d="M1035.4,594.4 1046.9,595.9 1058.2,597.4 1046.9,589 1035.7,580.2 1024.3,578.1 1012.9,576 1024.1,585.4z" fill="url(#g259)"/>
<path d="M921.5,526.4 933.4,528.5 945.2,530.7 934.1,519.8 923.2,508.7 911.4,506.5 899.5,504.5 910.5,515.5z" fill="url(#g260)"/>
<path d="M807.5,457.2 819.8,457.3 832,457.7 821.2,446.7 810.5,435.8 798.3,436.1 786.1,436.8 796.8,446.9z" fill="url(#g261)"/>
<path d="M1195.2,639.1 1206.1,636 1217,632.9 1205.1,632 1193.4,630.5 1182.5,632.2 1171.6,633.7 1183.4,636.7z" fill="url(#g262)"/>
<path d="M989.7,572.2 1001.3,574.1 1012.9,576 1001.7,566.4 990.6,556.5 979,554.1 967.3,551.9 978.5,562.1z" fill="url(#g263)"/>
<path d="M1149.6,636.8 1160.6,635.3 1171.6,633.7 1159.9,630.2 1148.4,626.1 1137.4,626.4 1126.3,626.6 1137.9,631.9z" fill="url(#g264)"/>
<path d="M761.4,439.1 773.8,437.8 786.1,436.8 775.5,426.7 764.9,416.6 752.6,418.7 740.2,421.1 750.8,430z" fill="url(#g265)"/>
<path d="M875.4,501.2 887.5,502.8 899.5,504.5 888.6,493.4 877.7,482.2 865.7,480.7 853.6,479.5 864.5,490.4z" fill="url(#g266)"/>
<path d="M1355.4,560.6 1366.1,549.8 1376.7,538.8 1363.8,552.7 1351,565.4 1340.5,573.9 1330,582.2 1342.6,571.9z" fill="url(#g267)"/>
<path d="M1241,632 1251.8,627 1262.6,621.8 1250.5,624.5 1238.5,626.3 1227.8,629.6 1217,632.9 1229,632.9z" fill="url(#g268)"/>
<path d="M1103.9,627.1 1115.2,626.9 1126.3,626.6 1114.8,620.8 1103.3,614.6 1092.2,613.8 1080.9,613 1092.4,620.3z" fill="url(#g269)"/>
<path d="M715.3,427 727.8,423.9 740.2,421.1 729.7,412.3 719.3,403.6 706.9,407.7 694.4,412.2 704.8,419.5z" fill="url(#g270)"/>
<path d="M1424.5,480 1435.2,465.5 1445.9,450.9 1432.3,472.5 1418.8,492.8 1408.4,504.6 1397.9,516.2 1411.1,498.7z" fill="url(#g271)"/>
<path d="M669.4,422.5 681.9,417.1 694.4,412.2 684.1,405.1 673.9,398.3 661.4,404.8 649,411.8 659.1,417z" fill="url(#g272)"/>
<path d="M1287.2,613.4 1298,605.9 1308.7,598.2 1296.3,605.1 1284,610.9 1273.3,616.4 1262.6,621.8 1274.8,618z" fill="url(#g273)"/>
<path d="M943.7,547.8 955.6,549.8 967.3,551.9 956.2,541.4 945.2,530.7 933.4,528.5 921.5,526.4 932.6,537.2z" fill="url(#g274)"/>
<path d="M1058.2,611.6 1069.6,612.3 1080.9,613 1069.5,605.4 1058.2,597.4 1046.9,595.9 1035.4,594.4 1046.8,603.2z" fill="url(#g275)"/>
<path d="M829.2,477.8 841.4,478.5 853.6,479.5 842.7,468.6 832,457.7 819.8,457.3 807.5,457.2 818.3,467.4z" fill="url(#g276)"/>
<path d="M1012.3,591.7 1023.9,593 1035.4,594.4 1024.1,585.4 1012.9,576 1001.3,574.1 989.7,572.2 1001,582z" fill="url(#g277)"/>
<path d="M782.8,457.8 795.2,457.3 807.5,457.2 796.8,446.9 786.1,436.8 773.8,437.8 761.4,439.1 772.1,448.4z" fill="url(#g278)"/>
<path d="M897.5,522.8 909.5,524.5 921.5,526.4 910.5,515.5 899.5,504.5 887.5,502.8 875.4,501.2 886.4,512z" fill="url(#g279)"/>
<path d="M1333.9,581.5 1344.7,571.2 1355.4,560.6 1342.6,571.9 1330,582.2 1319.3,590.3 1308.7,598.2 1321.2,590.3z" fill="url(#g280)"/>
<path d="M1403.1,508.1 1413.8,494.2 1424.5,480 1411.1,498.7 1397.9,516.2 1387.3,527.6 1376.7,538.8 1389.8,524z" fill="url(#g281)"/>
<path d="M1173.1,645 1184.2,642.1 1195.2,639.1 1183.4,636.7 1171.6,633.7 1160.6,635.3 1149.6,636.8 1161.3,641.1z" fill="url(#g282)"/>
<path d="M736.4,442.9 748.9,440.8 761.4,439.1 750.8,430 740.2,421.1 727.8,423.9 715.3,427 725.8,434.8z" fill="url(#g283)"/>
<path d="M1219.2,641.7 1230.1,636.9 1241,632 1229,632.9 1217,632.9 1206.1,636 1195.2,639.1 1207.1,640.8z" fill="url(#g284)"/>
<path d="M1127.2,639.7 1138.4,638.2 1149.6,636.8 1137.9,631.9 1126.3,626.6 1115.2,626.9 1103.9,627.1 1115.5,633.6z" fill="url(#g285)"/>
<path d="M966.2,568.7 978,570.4 989.7,572.2 978.5,562.1 967.3,551.9 955.6,549.8 943.7,547.8 954.9,558.3z" fill="url(#g286)"/>
<path d="M690.1,434.6 702.7,430.6 715.3,427 704.8,419.5 694.4,412.2 681.9,417.1 669.4,422.5 679.7,428.4z" fill="url(#g287)"/>
<path d="M851.1,498.7 863.3,499.9 875.4,501.2 864.5,490.4 853.6,479.5 841.4,478.5 829.2,477.8 840.1,488.2z" fill="url(#g288)"/>
<path d="M1265.5,627.8 1276.4,620.7 1287.2,613.4 1274.8,618 1262.6,621.8 1251.8,627 1241,632 1253.2,630.3z" fill="url(#g289)"/>
<path d="M1081.2,627.6 1092.6,627.4 1103.9,627.1 1092.4,620.3 1080.9,613 1069.6,612.3 1058.2,611.6 1069.7,619.8z" fill="url(#g290)"/>
<path d="M919.8,544.3 931.8,546 943.7,547.8 932.6,537.2 921.5,526.4 909.5,524.5 897.5,522.8 908.6,533.6z" fill="url(#g291)"/>
<path d="M804.4,477.1 816.9,477.3 829.2,477.8 818.3,467.4 807.5,457.2 795.2,457.3 782.8,457.8 793.6,467.4z" fill="url(#g292)"/>
<path d="M1035.1,610.3 1046.7,611 1058.2,611.6 1046.8,603.2 1035.4,594.4 1023.9,593 1012.3,591.7 1023.7,601.1z" fill="url(#g293)"/>
<path d="M1381.5,535.3 1392.3,521.8 1403.1,508.1 1389.8,524 1376.7,538.8 1366.1,549.8 1355.4,560.6 1368.4,548.4z" fill="url(#g294)"/>
<path d="M1312.3,601.5 1323.1,591.6 1333.9,581.5 1321.2,590.3 1308.7,598.2 1298,605.9 1287.2,613.4 1299.7,607.8z" fill="url(#g295)"/>
<path d="M757.7,459.6 770.3,458.6 782.8,457.8 772.1,448.4 761.4,439.1 748.9,440.8 736.4,442.9 747,451.1z" fill="url(#g296)"/>
<path d="M988.8,589.2 1000.6,590.4 1012.3,591.7 1001,582 989.7,572.2 978,570.4 966.2,568.7 977.5,579z" fill="url(#g297)"/>
<path d="M873.1,519.9 885.4,521.2 897.5,522.8 886.4,512 875.4,501.2 863.3,499.9 851.1,498.7 862.1,509.2z" fill="url(#g298)"/>
<path d="M1197.1,651 1208.2,646.4 1219.2,641.7 1207.1,640.8 1195.2,639.1 1184.2,642.1 1173.1,645 1185.1,648.3z" fill="url(#g299)"/>
<path d="M1150.8,650.7 1162,647.9 1173.1,645 1161.3,641.1 1149.6,636.8 1138.4,638.2 1127.2,639.7 1139,645.4z" fill="url(#g300)"/>
<path d="M711.1,448 723.8,445.2 736.4,442.9 725.8,434.8 715.3,427 702.7,430.6 690.1,434.6 700.5,441.1z" fill="url(#g301)"/>
<path d="M1104.5,642.5 1115.9,641.1 1127.2,639.7 1115.5,633.6 1103.9,627.1 1092.6,627.4 1081.2,627.6 1092.8,635.2z" fill="url(#g302)"/>
<path d="M1243.5,641.5 1254.5,634.8 1265.5,627.8 1253.2,630.3 1241,632 1230.1,636.9 1219.2,641.7 1231.3,642z" fill="url(#g303)"/>
<path d="M942.3,565.7 954.3,567.2 966.2,568.7 954.9,558.3 943.7,547.8 931.8,546 919.8,544.3 931,555z" fill="url(#g304)"/>
<path d="M1359.8,561.4 1370.7,548.5 1381.5,535.3 1368.4,548.4 1355.4,560.6 1344.7,571.2 1333.9,581.5 1346.8,571.9z" fill="url(#g305)"/>
<path d="M826.3,497 838.7,497.8 851.1,498.7 840.1,488.2 829.2,477.8 816.9,477.3 804.4,477.1 815.3,487z" fill="url(#g306)"/>
<path d="M1058.2,628.2 1069.8,627.9 1081.2,627.6 1069.7,619.8 1058.2,611.6 1046.7,611 1035.1,610.3 1046.6,619.4z" fill="url(#g307)"/>
<path d="M1290.4,620.5 1301.4,611.1 1312.3,601.5 1299.7,607.8 1287.2,613.4 1276.4,620.7 1265.5,627.8 1277.9,624.5z" fill="url(#g308)"/>
<path d="M779.4,477.4 791.9,477.1 804.4,477.1 793.6,467.4 782.8,457.8 770.3,458.6 757.7,459.6 768.5,468.4z" fill="url(#g309)"/>
<path d="M1011.7,609.2 1023.5,609.7 1035.1,610.3 1023.7,601.1 1012.3,591.7 1000.6,590.4 988.8,589.2 1000.2,599.2z" fill="url(#g310)"/>
<path d="M895.5,541.3 907.7,542.7 919.8,544.3 908.6,533.6 897.5,522.8 885.4,521.2 873.1,519.9 884.3,530.5z" fill="url(#g311)"/>
<path d="M732.4,462.7 745.1,461 757.7,459.6 747,451.1 736.4,442.9 723.8,445.2 711.1,448 721.7,455.2z" fill="url(#g312)"/>
<path d="M1174.7,659.9 1185.9,655.5 1197.1,651 1185.1,648.3 1173.1,645 1162,647.9 1150.8,650.7 1162.7,655.5z" fill="url(#g313)"/>
<path d="M1337.9,586.5 1348.8,574.1 1359.8,561.4 1346.8,571.9 1333.9,581.5 1323.1,591.6 1312.3,601.5 1325,594.4z" fill="url(#g314)"/>
<path d="M1128.1,656.1 1139.5,653.4 1150.8,650.7 1139,645.4 1127.2,639.7 1115.9,641.1 1104.5,642.5 1116.3,649.4z" fill="url(#g315)"/>
<path d="M965,586.9 976.9,588 988.8,589.2 977.5,579 966.2,568.7 954.3,567.2 942.3,565.7 953.6,576.3z" fill="url(#g316)"/>
<path d="M1221.4,654.7 1232.5,648.2 1243.5,641.5 1231.3,642 1219.2,641.7 1208.2,646.4 1197.1,651 1209.2,653.1z" fill="url(#g317)"/>
<path d="M848.4,517.6 860.8,518.6 873.1,519.9 862.1,509.2 851.1,498.7 838.7,497.8 826.3,497 837.3,507.2z" fill="url(#g318)"/>
<path d="M1081.5,645.2 1093.1,643.8 1104.5,642.5 1092.8,635.2 1081.2,627.6 1069.8,627.9 1058.2,628.2 1069.8,636.8z" fill="url(#g319)"/>
<path d="M1268.3,638.7 1279.4,629.7 1290.4,620.5 1277.9,624.5 1265.5,627.8 1254.5,634.8 1243.5,641.5 1255.9,640.4z" fill="url(#g320)"/>
<path d="M801.2,496.2 813.8,496.5 826.3,497 815.3,487 804.4,477.1 791.9,477.1 779.4,477.4 790.3,486.7z" fill="url(#g321)"/>
<path d="M918,562.9 930.2,564.3 942.3,565.7 931,555 919.8,544.3 907.7,542.7 895.5,541.3 906.7,552.1z" fill="url(#g322)"/>
<path d="M1034.8,628.7 1046.6,628.4 1058.2,628.2 1046.6,619.4 1035.1,610.3 1023.5,609.7 1011.7,609.2 1023.2,619z" fill="url(#g323)"/>
<path d="M753.9,478.8 766.7,478 779.4,477.4 768.5,468.4 757.7,459.6 745.1,461 732.4,462.7 743.1,470.6z" fill="url(#g324)"/>
<path d="M1315.8,610.4 1326.9,598.6 1337.9,586.5 1325,594.4 1312.3,601.5 1301.4,611.1 1290.4,620.5 1303.1,615.8z" fill="url(#g325)"/>
<path d="M987.9,608.1 999.9,608.6 1011.7,609.2 1000.2,599.2 988.8,589.2 976.9,588 965,586.9 976.4,597.5z" fill="url(#g326)"/>
<path d="M870.8,538.8 883.2,539.9 895.5,541.3 884.3,530.5 873.1,519.9 860.8,518.6 848.4,517.6 859.6,528.1z" fill="url(#g327)"/>
<path d="M1152,668.4 1163.4,664.2 1174.7,659.9 1162.7,655.5 1150.8,650.7 1139.5,653.4 1128.1,656.1 1140,662.4z" fill="url(#g328)"/>
<path d="M1198.9,667.2 1210.2,661 1221.4,654.7 1209.2,653.1 1197.1,651 1185.9,655.5 1174.7,659.9 1186.7,663.8z" fill="url(#g329)"/>
<path d="M1105.1,661.3 1116.7,658.7 1128.1,656.1 1116.3,649.4 1104.5,642.5 1093.1,643.8 1081.5,645.2 1093.3,653.4z" fill="url(#g330)"/>
<path d="M1246,656.1 1257.2,647.5 1268.3,638.7 1255.9,640.4 1243.5,641.5 1232.5,648.2 1221.4,654.7 1233.6,655.6z" fill="url(#g331)"/>
<path d="M823.4,516 835.9,516.7 848.4,517.6 837.3,507.2 826.3,497 813.8,496.5 801.2,496.2 812.3,505.9z" fill="url(#g332)"/>
<path d="M940.8,584.9 952.9,585.9 965,586.9 953.6,576.3 942.3,565.7 930.2,564.3 918,562.9 929.4,573.9z" fill="url(#g333)"/>
<path d="M1058.2,647.8 1069.9,646.5 1081.5,645.2 1069.8,636.8 1058.2,628.2 1046.6,628.4 1034.8,628.7 1046.5,638.3z" fill="url(#g334)"/>
<path d="M775.8,496.2 788.5,496.1 801.2,496.2 790.3,486.7 779.4,477.4 766.7,478 753.9,478.8 764.8,487.3z" fill="url(#g335)"/>
<path d="M1293.6,633.4 1304.7,622 1315.8,610.4 1303.1,615.8 1290.4,620.5 1279.4,629.7 1268.3,638.7 1280.9,636.4z" fill="url(#g336)"/>
<path d="M893.4,560.6 905.7,561.7 918,562.9 906.7,552.1 895.5,541.3 883.2,539.9 870.8,538.8 882,549.6z" fill="url(#g337)"/>
<path d="M1011.1,629.2 1023,628.9 1034.8,628.7 1023.2,619 1011.7,609.2 999.9,608.6 987.9,608.1 999.5,618.7z" fill="url(#g338)"/>
<path d="M1176.2,679.3 1187.6,673.3 1198.9,667.2 1186.7,663.8 1174.7,659.9 1163.4,664.2 1152,668.4 1164,674z" fill="url(#g339)"/>
<path d="M963.8,607.1 975.9,607.6 987.9,608.1 976.4,597.5 965,586.9 952.9,585.9 940.8,584.9 952.2,596z" fill="url(#g340)"/>
<path d="M845.7,536.8 858.3,537.7 870.8,538.8 859.6,528.1 848.4,517.6 835.9,516.7 823.4,516 834.5,526.2z" fill="url(#g341)"/>
<path d="M1129,676.6 1140.5,672.5 1152,668.4 1140,662.4 1128.1,656.1 1116.7,658.7 1105.1,661.3 1117,669.1z" fill="url(#g342)"/>
<path d="M1223.5,672.8 1234.8,664.5 1246,656.1 1233.6,655.6 1221.4,654.7 1210.2,661 1198.9,667.2 1211.2,670.2z" fill="url(#g343)"/>
<path d="M1081.8,666.3 1093.5,663.9 1105.1,661.3 1093.3,653.4 1081.5,645.2 1069.9,646.5 1058.2,647.8 1070,657.1z" fill="url(#g344)"/>
<path d="M797.9,515.1 810.7,515.4 823.4,516 812.3,505.9 801.2,496.2 788.5,496.1 775.8,496.2 786.8,505.5z" fill="url(#g345)"/>
<path d="M1271.1,655.4 1282.4,644.5 1293.6,633.4 1280.9,636.4 1268.3,638.7 1257.2,647.5 1246,656.1 1258.5,656z" fill="url(#g346)"/>
<path d="M916.2,583.1 928.5,584 940.8,584.9 929.4,573.9 918,562.9 905.7,561.7 893.4,560.6 904.8,571.7z" fill="url(#g347)"/>
<path d="M1034.5,650.2 1046.4,649 1058.2,647.8 1046.5,638.3 1034.8,628.7 1023,628.9 1011.1,629.2 1022.8,639.7z" fill="url(#g348)"/>
<path d="M987,629.6 999.1,629.4 1011.1,629.2 999.5,618.7 987.9,608.1 975.9,607.6 963.8,607.1 975.4,618.4z" fill="url(#g349)"/>
<path d="M868.4,558.6 880.9,559.5 893.4,560.6 882,549.6 870.8,538.8 858.3,537.7 845.7,536.8 857,547.5z" fill="url(#g350)"/>
<path d="M1153.2,690.8 1164.7,685.1 1176.2,679.3 1164,674 1152,668.4 1140.5,672.5 1129,676.6 1141.1,683.8z" fill="url(#g351)"/>
<path d="M1200.7,688.8 1212.1,680.9 1223.5,672.8 1211.2,670.2 1198.9,667.2 1187.6,673.3 1176.2,679.3 1188.4,684.2z" fill="url(#g352)"/>
<path d="M1105.7,684.4 1117.4,680.5 1129,676.6 1117,669.1 1105.1,661.3 1093.5,663.9 1081.8,666.3 1093.7,675.4z" fill="url(#g353)"/>
<path d="M939.3,606.2 951.6,606.7 963.8,607.1 952.2,596 940.8,584.9 928.5,584 916.2,583.1 927.7,594.6z" fill="url(#g354)"/>
<path d="M820.3,535.3 833.1,536 845.7,536.8 834.5,526.2 823.4,516 810.7,515.4 797.9,515.1 809.1,525z" fill="url(#g355)"/>
<path d="M1248.5,676.6 1259.8,666.1 1271.1,655.4 1258.5,656 1246,656.1 1234.8,664.5 1223.5,672.8 1235.9,674.9z" fill="url(#g356)"/>
<path d="M1058.2,671.1 1070.1,668.8 1081.8,666.3 1070,657.1 1058.2,647.8 1046.4,649 1034.5,650.2 1046.3,660.7z" fill="url(#g357)"/>
<path d="M891.2,581.5 903.8,582.2 916.2,583.1 904.8,571.7 893.4,560.6 880.9,559.5 868.4,558.6 879.8,569.9z" fill="url(#g358)"/>
<path d="M1010.5,652.5 1022.6,651.3 1034.5,650.2 1022.8,639.7 1011.1,629.2 999.1,629.4 987,629.6 998.7,641z" fill="url(#g359)"/>
<path d="M1177.7,704.2 1189.2,696.6 1200.7,688.8 1188.4,684.2 1176.2,679.3 1164.7,685.1 1153.2,690.8 1165.4,697.6z" fill="url(#g360)"/>
<path d="M962.6,630 974.8,629.9 987,629.6 975.4,618.4 963.8,607.1 951.6,606.7 939.3,606.2 950.9,618z" fill="url(#g361)"/>
<path d="M1129.9,701.9 1141.6,696.5 1153.2,690.8 1141.1,683.8 1129,676.6 1117.4,680.5 1105.7,684.4 1117.8,693.2z" fill="url(#g362)"/>
<path d="M843,557 855.7,557.7 868.4,558.6 857,547.5 845.7,536.8 833.1,536 820.3,535.3 831.6,545.9z" fill="url(#g363)"/>
<path d="M1225.6,696.9 1237.1,686.9 1248.5,676.6 1235.9,674.9 1223.5,672.8 1212.1,680.9 1200.7,688.8 1213.1,693z" fill="url(#g364)"/>
<path d="M1082.1,691.9 1094,688.2 1105.7,684.4 1093.7,675.4 1081.8,666.3 1070.1,668.8 1058.2,671.1 1070.1,681.5z" fill="url(#g365)"/>
<path d="M914.4,605.4 926.9,605.8 939.3,606.2 927.7,594.6 916.2,583.1 903.8,582.2 891.2,581.5 902.8,593.3z" fill="url(#g366)"/>
<path d="M1034.2,675.6 1046.3,673.4 1058.2,671.1 1046.3,660.7 1034.5,650.2 1022.6,651.3 1010.5,652.5 1022.3,664z" fill="url(#g367)"/>
<path d="M986.1,654.5 998.4,653.5 1010.5,652.5 998.7,641 987,629.6 974.8,629.9 962.6,630 974.3,642.2z" fill="url(#g368)"/>
<path d="M865.9,580 878.6,580.7 891.2,581.5 879.8,569.9 868.4,558.6 855.7,557.7 843,557 854.4,568.3z" fill="url(#g369)"/>
<path d="M1154.4,718.9 1166.1,711.6 1177.7,704.2 1165.4,697.6 1153.2,690.8 1141.6,696.5 1129.9,701.9 1142.1,710.5z" fill="url(#g370)"/>
<path d="M1202.5,716.6 1214.1,706.8 1225.6,696.9 1213.1,693 1200.7,688.8 1189.2,696.6 1177.7,704.2 1190,710.5z" fill="url(#g371)"/>
<path d="M1106.3,712.5 1118.2,707.3 1129.9,701.9 1117.8,693.2 1105.7,684.4 1094,688.2 1082.1,691.9 1094.2,702.2z" fill="url(#g372)"/>
<path d="M937.8,630.4 950.2,630.2 962.6,630 950.9,618 939.3,606.2 926.9,605.8 914.4,605.4 926,617.7z" fill="url(#g373)"/>
<path d="M1058.2,699 1070.2,695.5 1082.1,691.9 1070.1,681.5 1058.2,671.1 1046.3,673.4 1034.2,675.6 1046.2,687.2z" fill="url(#g374)"/>
<path d="M1009.9,679.7 1022.1,677.7 1034.2,675.6 1022.3,664 1010.5,652.5 998.4,653.5 986.1,654.5 998,667z" fill="url(#g375)"/>
<path d="M889.1,604.6 901.8,605 914.4,605.4 902.8,593.3 891.2,581.5 878.6,580.7 865.9,580 877.5,592.1z" fill="url(#g376)"/>
<path d="M1179.1,735.4 1190.8,726.1 1202.5,716.6 1190,710.5 1177.7,704.2 1166.1,711.6 1154.4,718.9 1166.7,727.2z" fill="url(#g377)"/>
<path d="M1130.8,733.1 1142.6,726.1 1154.4,718.9 1142.1,710.5 1129.9,701.9 1118.2,707.3 1106.3,712.5 1118.5,722.8z" fill="url(#g378)"/>
<path d="M961.4,656.4 973.8,655.5 986.1,654.5 974.3,642.2 962.6,630 950.2,630.2 937.8,630.4 949.5,643.3z" fill="url(#g379)"/>
<path d="M1082.4,722.6 1094.4,717.7 1106.3,712.5 1094.2,702.2 1082.1,691.9 1070.2,695.5 1058.2,699 1070.3,710.8z" fill="url(#g380)"/>
<path d="M1033.9,705.6 1046.1,702.3 1058.2,699 1046.2,687.2 1034.2,675.6 1022.1,677.7 1009.9,679.7 1021.9,692.6z" fill="url(#g381)"/>
<path d="M912.5,630.6 925.2,630.5 937.8,630.4 926,617.7 914.4,605.4 901.8,605 889.1,604.6 900.8,617.4z" fill="url(#g382)"/>
<path d="M985.2,683.5 997.6,681.7 1009.9,679.7 998,667 986.1,654.5 973.8,655.5 961.4,656.4 973.3,669.8z" fill="url(#g383)"/>
<path d="M1155.5,753.5 1167.4,744.6 1179.1,735.4 1166.7,727.2 1154.4,718.9 1142.6,726.1 1130.8,733.1 1143.1,743.3z" fill="url(#g384)"/>
<path d="M1106.9,746.6 1118.9,739.9 1130.8,733.1 1118.5,722.8 1106.3,712.5 1094.4,717.7 1082.4,722.6 1094.6,734.6z" fill="url(#g385)"/>
<path d="M936.2,658.1 948.9,657.3 961.4,656.4 949.5,643.3 937.8,630.4 925.2,630.5 912.5,630.6 924.4,644.1z" fill="url(#g386)"/>
<path d="M1058.2,732.1 1070.4,727.5 1082.4,722.6 1070.3,710.8 1058.2,699 1046.1,702.3 1033.9,705.6 1046,718.8z" fill="url(#g387)"/>
<path d="M1009.3,711.8 1021.7,708.7 1033.9,705.6 1021.9,692.6 1009.9,679.7 997.6,681.7 985.2,683.5 997.2,697.5z" fill="url(#g388)"/>
<path d="M1131.6,770.8 1143.6,762.3 1155.5,753.5 1143.1,743.3 1130.8,733.1 1118.9,739.9 1106.9,746.6 1119.2,758.7z" fill="url(#g389)"/>
<path d="M960.2,687 972.7,685.3 985.2,683.5 973.3,669.8 961.4,656.4 948.9,657.3 936.2,658.1 948.2,672.4z" fill="url(#g390)"/>
<path d="M1082.7,759.4 1094.8,753.1 1106.9,746.6 1094.6,734.6 1082.4,722.6 1070.4,727.5 1058.2,732.1 1070.4,745.7z" fill="url(#g391)"/>
<path d="M1033.6,741.1 1046,736.7 1058.2,732.1 1046,718.8 1033.9,705.6 1021.7,708.7 1009.3,711.8 1021.5,726.3z" fill="url(#g392)"/>
<path d="M984.3,717.5 996.9,714.7 1009.3,711.8 997.2,697.5 985.2,683.5 972.7,685.3 960.2,687 972.2,702.1z" fill="url(#g393)"/>
<path d="M1107.5,787.3 1119.6,779.2 1131.6,770.8 1119.2,758.7 1106.9,746.6 1094.8,753.1 1082.7,759.4 1095,773.3z" fill="url(#g394)"/>
<path d="M1058.2,771.5 1070.5,765.5 1082.7,759.4 1070.4,745.7 1058.2,732.1 1046,736.7 1033.6,741.1 1045.9,756.1z" fill="url(#g395)"/>
<path d="M1008.7,749.4 1021.2,745.3 1033.6,741.1 1021.5,726.3 1009.3,711.8 996.9,714.7 984.3,717.5 996.5,733.2z" fill="url(#g396)"/>
<path d="M1083,803 1095.3,795.3 1107.5,787.3 1095,773.3 1082.7,759.4 1070.5,765.5 1058.2,771.5 1070.6,787.1z" fill="url(#g397)"/>
<path d="M1033.4,782.8 1045.8,777.3 1058.2,771.5 1045.9,756.1 1033.6,741.1 1021.2,745.3 1008.7,749.4 1021,765.9z" fill="url(#g398)"/>
<path d="M1058.2,817.8 1070.6,810.5 1083,803 1070.6,787.1 1058.2,771.5 1045.8,777.3 1033.4,782.8 1045.8,800.1z" fill="url(#g399)"/>
</g>
<circle cx="1509" cy="364.2" r="9.2" fill="#ffc8c8" stroke="#000" stroke-width="1.5"/>
<circle cx="846" cy="270.8" r="9.2" fill="#c00000" stroke="#000" stroke-width="1.5"/>
<circle cx="820" cy="527" r="9.2" fill="#c00000" stroke="#000" stroke-width="1.5"/>
<circle cx="1294" cy="621" r="9.2" fill="#c00000" stroke="#000" stroke-width="1.5"/>
<g font-family="Liberation Sans, sans-serif" font-size="32" fill="#000">
<text x="607.8" y="743.9" text-anchor="end">70</text>
<text x="603.6" y="654.9" text-anchor="end">75</text>
<text x="599.3" y="565.9" text-anchor="end">80</text>
<text x="595.1" y="476.8" text-anchor="end">85</text>
<text x="590.8" y="387.8" text-anchor="end">90</text>
<text x="586.6" y="298.8" text-anchor="end">95</text>
<text x="613.1" y="919.3" text-anchor="end">0.02</text>
<text x="698.2" y="961.4" text-anchor="end">0.018</text>
<text x="783.3" y="1002.1" text-anchor="end">0.016</text>
<text x="868.4" y="1042.7" text-anchor="end">0.014</text>
<text x="953.5" y="1083.3" text-anchor="end">0.012</text>
<text x="1038.6" y="1123.9" text-anchor="end">0.01</text>
<text x="1075.6" y="1123.6">0.57</text>
<text x="1182" y="1072.8">0.665</text>
<text x="1288.3" y="1022.1">0.76</text>
<text x="1394.7" y="971.3">0.855</text>
<text x="1501.1" y="918.5">0.95</text>
<g font-size="31">
<text x="554.7" y="1078">B: Pressure (MPa)</text>
<text x="1277.6" y="1078" textLength="315.5" lengthAdjust="spacingAndGlyphs">A: Linear Velocity (m/s)</text>
<text transform="translate(470.6,606.5) rotate(-90)" text-anchor="middle">Exploitation zone (%)</text>
</g>
<text x="1134.7" y="47.4" font-size="38.5" text-anchor="middle">3D Surface</text>
</g>
<defs><linearGradient id="lg" x1="0" x2="1" y1="0" y2="0"><stop offset="0" stop-color="#0000ff"/><stop offset=".5" stop-color="#00ff00"/><stop offset="1" stop-color="#ff0000"/></linearGradient></defs>
<g font-family="Liberation Sans, sans-serif" font-size="28" fill="#000">
<text x="3.2" y="25.1" textLength="275" lengthAdjust="spacingAndGlyphs">Factor Coding: Actual</text>
<text x="3" y="118.5" textLength="292.4" lengthAdjust="spacingAndGlyphs" font-weight="bold">Exploitation zone (%)</text>
<text x="3" y="165.6" textLength="182.3" lengthAdjust="spacingAndGlyphs">Design Points:</text>
<text x="65.2" y="210.8" textLength="184.8" lengthAdjust="spacingAndGlyphs" fill="#b91414" font-size="29">Above Surface</text>
<text x="64.4" y="257.3" textLength="180" lengthAdjust="spacingAndGlyphs" fill="#b91414" font-size="29">Below Surface</text>
<text x="4.3" y="304.1" textLength="30.4" lengthAdjust="spacingAndGlyphs" fill="#1414ff">72</text>
<text x="161.2" y="304.1" textLength="31.5" lengthAdjust="spacingAndGlyphs" fill="#ff1414">94</text>
<text x="2.8" y="396.3" textLength="88.2" lengthAdjust="spacingAndGlyphs">X1 = A</text>
<text x="2.8" y="443" textLength="87.3" lengthAdjust="spacingAndGlyphs">X2 = B</text>
</g>
<circle cx="32.1" cy="200.5" r="15.4" fill="#b80000" stroke="#222" stroke-width="1.3"/>
<circle cx="32.1" cy="246.7" r="15.4" fill="#ffc8c8" stroke="#222" stroke-width="1.3"/>
<rect x="45.9" y="275.1" width="103" height="38.3" fill="url(#lg)" stroke="#333" stroke-width="1.4"/>
<path d="M303.6,421.6H288.9V463.2H331.4V450.1" fill="none" stroke="#000" stroke-width="5.6"/>
<path d="M310.2,418.9H334.5V443.6zM305.5,442.2 311.1,448 327,432 321.4,426.3z" fill="#000"/>
</svg>
</body></html>
